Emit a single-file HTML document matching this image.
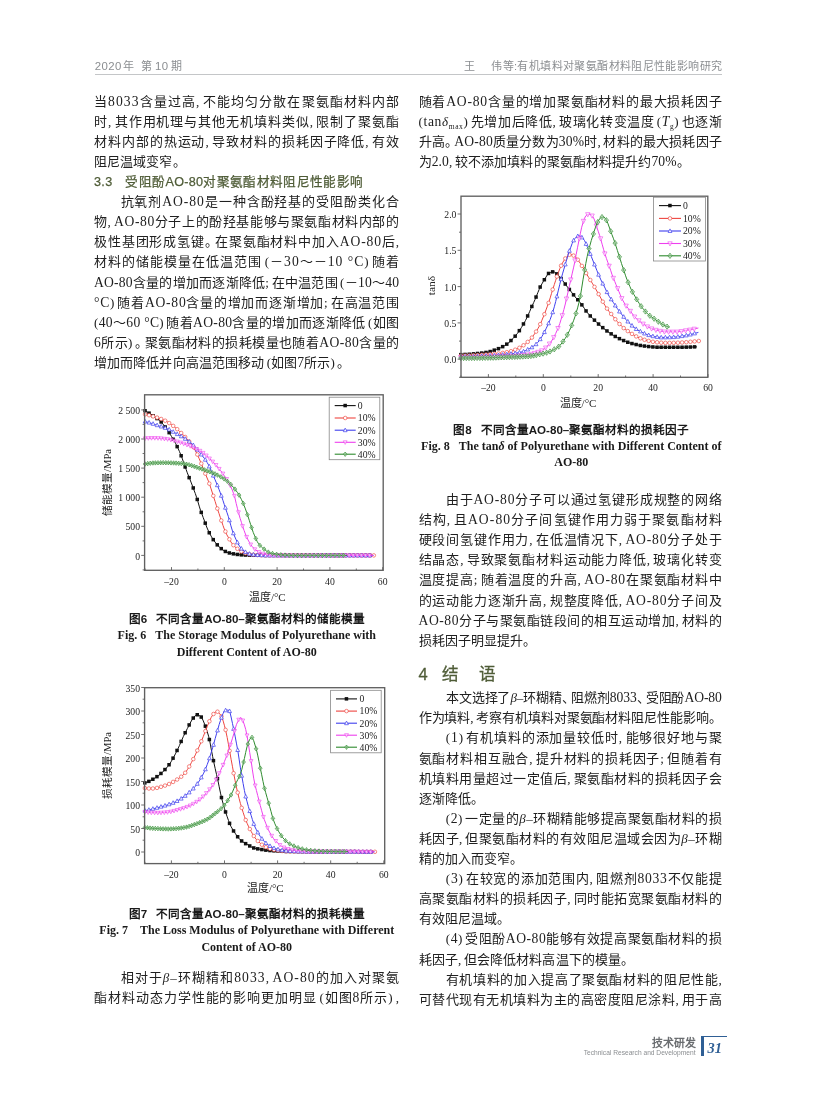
<!DOCTYPE html>
<html lang="zh-CN"><head><meta charset="utf-8"><title>page 31</title>
<style>
html,body{margin:0;padding:0;background:#fff;}
#p{position:relative;width:816px;height:1099px;overflow:hidden;background:transparent;will-change:transform;font-family:"Liberation Serif",serif;color:#1a1a1a;}
#p div{position:absolute;white-space:nowrap;}
.b{font-size:13.0px;line-height:20.0px;height:20.0px;color:#202020;}
.j{text-align:justify;text-align-last:justify;text-justify:inter-character;}
.l{font-size:13.6px;}.pd{margin-right:-0.3em;}.pc{margin-right:0.2em;}.pl{margin-left:0.18em;}.pr{margin-right:0.18em;}
.b sub{font-size:7.5px;vertical-align:-3px;line-height:0;}
.h3{font-family:"Liberation Sans",sans-serif;font-size:12.6px;line-height:20px;color:#4f5c37;letter-spacing:0.32px;-webkit-text-stroke:0.25px #4f5c37;}
.h1{font-family:"Liberation Sans",sans-serif;font-size:16.5px;line-height:22px;color:#4f5c37;-webkit-text-stroke:0.3px #4f5c37;}
.cc{font-family:"Liberation Sans",sans-serif;font-weight:bold;font-size:11.6px;line-height:16px;text-align:center;color:#1a1a1a;}
.cc,.ce{white-space:nowrap;}
.ce{font-family:"Liberation Serif",serif;font-weight:bold;font-size:12.0px;line-height:16px;text-align:center;color:#1a1a1a;}
.hd{font-family:"Liberation Sans",sans-serif;font-size:11.0px;line-height:16px;color:#8b8e91;letter-spacing:0.39px;}
.hn{font-size:11.4px;}
.ft1{font-family:"Liberation Sans",sans-serif;font-weight:bold;font-size:10.9px;line-height:14px;color:#6a6d70;}
.ft2{font-family:"Liberation Sans",sans-serif;font-size:6.65px;line-height:8px;color:#8b8e91;}
.pg{font-family:"Liberation Serif",serif;font-weight:bold;font-style:italic;font-size:14.4px;line-height:16px;color:#2f5f95;}
svg{position:absolute;left:0;top:0;}
svg text{font-family:"Liberation Serif",serif;fill:#222;}
.tk{font-size:9.7px;}
.ax{font-size:11px;}
.ay{font-size:10.6px;}
</style></head>
<body><div id="p">
<svg width="816" height="1099" viewBox="0 0 816 1099">
<defs><g id="mk"><rect x="-1.8" y="-1.8" width="3.5" height="3.5" fill="#111111"/></g><g id="mr"><circle cx="0.0" cy="0.0" r="1.80" fill="#fff" stroke="#ee4540" stroke-width="0.65"/></g><g id="mb"><path d="M0.0 -2.1L1.9 1.5L-1.9 1.5Z" fill="#fff" stroke="#3f3fee" stroke-width="0.7"/></g><g id="mm"><path d="M0.0 2.1L1.9 -1.5L-1.9 -1.5Z" fill="#fff" fill-opacity="0.55" stroke="#ee3fee" stroke-width="0.6"/></g><g id="mg"><path d="M0.0 -2.2L1.8 0.0L0.0 2.2L-1.8 0.0Z" fill="#fff" fill-opacity="0.55" stroke="#2e8b2e" stroke-width="0.6"/><path d="M0.0 -2.2V2.2M-1.8 0.0H1.8" stroke="#2e8b2e" stroke-width="0.4" fill="none"/></g><g id="mmL"><path d="M0.0 2.5L2.2 -1.7L-2.2 -1.7Z" fill="#fff" fill-opacity="0.55" stroke="#ee3fee" stroke-width="0.6"/></g><g id="mgL"><path d="M0.0 -2.6L2.1 0.0L0.0 2.6L-2.1 0.0Z" fill="#fff" fill-opacity="0.55" stroke="#2e8b2e" stroke-width="0.6"/><path d="M0.0 -2.6V2.6M-2.1 0.0H2.1" stroke="#2e8b2e" stroke-width="0.4" fill="none"/></g></defs><path d="M145.1 410.8L146.4 411.5L147.7 412.3L149.1 413.1L150.4 414.0L151.7 414.8L153.0 415.7L154.3 416.6L155.7 417.5L157.0 418.5L158.3 419.5L159.6 420.6L160.9 421.8L162.3 423.3L163.6 424.9L164.9 426.6L166.2 428.4L167.5 430.3L168.9 432.3L170.2 434.3L171.5 436.4L172.8 438.6L174.1 440.9L175.5 443.3L176.8 445.8L178.1 448.5L179.4 451.4L180.7 454.5L182.1 458.1L183.4 461.9L184.7 465.6L186.0 469.2L187.3 472.8L188.7 476.3L190.0 479.6L191.3 482.9L192.6 486.3L193.9 489.9L195.3 493.5L196.6 497.4L197.9 501.6L199.2 506.1L200.5 510.3L201.9 514.0L203.2 517.5L204.5 521.0L205.8 524.6L207.1 528.0L208.5 531.1L209.8 533.7L211.1 536.1L212.4 538.3L213.7 540.3L215.1 542.1L216.4 543.8L217.7 545.3L219.0 546.6L220.3 547.8L221.7 548.9L223.0 550.0L224.3 550.9L225.6 551.7L226.9 552.2L228.3 552.7L229.6 553.1L230.9 553.4L232.2 553.7L233.5 553.9L234.9 554.2L236.2 554.4L237.5 554.5L238.8 554.7L240.1 554.8L241.5 554.9L242.8 555.0L244.1 555.1L245.4 555.1L246.7 555.2L248.1 555.2L249.4 555.2L250.7 555.3L252.0 555.3L253.3 555.3L254.7 555.3L256.0 555.3L257.3 555.3L258.6 555.3L259.9 555.3L261.3 555.3L262.6 555.3L263.9 555.4L265.2 555.4L266.5 555.4L267.9 555.4L269.2 555.4L270.5 555.4L271.8 555.4L273.1 555.4L274.5 555.4L275.8 555.4L277.1 555.4L278.4 555.4L279.7 555.4L281.1 555.4L282.4 555.4L283.7 555.4L285.0 555.4L286.3 555.4L287.7 555.4L289.0 555.4L290.3 555.4L291.6 555.4L292.9 555.4L294.3 555.4L295.6 555.4L296.9 555.4L298.2 555.4L299.5 555.4L300.9 555.4L302.2 555.4L303.5 555.4L304.8 555.4L306.1 555.4L307.5 555.4L308.8 555.4L310.1 555.4L311.4 555.4L312.7 555.4L314.1 555.4L315.4 555.4L316.7 555.4L318.0 555.4L319.3 555.4L320.7 555.4L322.0 555.4L323.3 555.4L324.6 555.4L325.9 555.4L327.3 555.4L328.6 555.4L329.9 555.4L331.2 555.4L332.5 555.4L333.9 555.4L335.2 555.4L336.5 555.4L337.8 555.4L339.1 555.4L340.5 555.4L341.8 555.4L343.1 555.4L344.4 555.4L345.7 555.4L347.1 555.4L348.4 555.4L349.7 555.4L351.0 555.4L352.3 555.4L353.7 555.4L355.0 555.4L356.3 555.4L357.6 555.4L358.9 555.4L360.3 555.4L361.6 555.4L362.9 555.4L364.2 555.4L365.5 555.4L366.9 555.4L368.2 555.4L369.5 555.4L370.8 555.4L372.1 555.4" fill="none" stroke="#111111" stroke-width="1"/>
<use href="#mk" x="145.1" y="410.8"/>
<use href="#mk" x="149.1" y="413.2"/>
<use href="#mk" x="153.1" y="415.8"/>
<use href="#mk" x="157.1" y="418.6"/>
<use href="#mk" x="161.2" y="422.0"/>
<use href="#mk" x="165.2" y="427.0"/>
<use href="#mk" x="169.2" y="432.7"/>
<use href="#mk" x="173.2" y="439.3"/>
<use href="#mk" x="177.2" y="446.7"/>
<use href="#mk" x="181.2" y="455.8"/>
<use href="#mk" x="185.2" y="467.0"/>
<use href="#mk" x="189.2" y="477.7"/>
<use href="#mk" x="193.3" y="488.0"/>
<use href="#mk" x="197.3" y="499.5"/>
<use href="#mk" x="201.3" y="512.4"/>
<use href="#mk" x="205.3" y="523.2"/>
<use href="#mk" x="209.3" y="532.8"/>
<use href="#mk" x="213.3" y="539.7"/>
<use href="#mk" x="217.3" y="544.9"/>
<use href="#mk" x="221.3" y="548.7"/>
<use href="#mk" x="225.4" y="551.5"/>
<use href="#mk" x="229.4" y="553.0"/>
<use href="#mk" x="233.4" y="553.9"/>
<use href="#mk" x="237.4" y="554.5"/>
<use href="#mk" x="241.4" y="554.9"/>
<use href="#mk" x="245.4" y="555.1"/>
<use href="#mk" x="249.4" y="555.2"/>
<use href="#mk" x="253.4" y="555.3"/>
<use href="#mk" x="257.5" y="555.3"/>
<use href="#mk" x="261.5" y="555.3"/>
<use href="#mk" x="265.5" y="555.4"/>
<use href="#mk" x="269.5" y="555.4"/>
<use href="#mk" x="273.5" y="555.4"/>
<use href="#mk" x="277.5" y="555.4"/>
<use href="#mk" x="281.5" y="555.4"/>
<use href="#mk" x="285.5" y="555.4"/>
<use href="#mk" x="289.6" y="555.4"/>
<use href="#mk" x="293.6" y="555.4"/>
<use href="#mk" x="297.6" y="555.4"/>
<use href="#mk" x="301.6" y="555.4"/>
<use href="#mk" x="305.6" y="555.4"/>
<use href="#mk" x="309.6" y="555.4"/>
<use href="#mk" x="313.6" y="555.4"/>
<use href="#mk" x="317.7" y="555.4"/>
<use href="#mk" x="321.7" y="555.4"/>
<use href="#mk" x="325.7" y="555.4"/>
<use href="#mk" x="329.7" y="555.4"/>
<use href="#mk" x="333.7" y="555.4"/>
<use href="#mk" x="337.7" y="555.4"/>
<use href="#mk" x="341.7" y="555.4"/>
<use href="#mk" x="345.7" y="555.4"/>
<use href="#mk" x="349.8" y="555.4"/>
<use href="#mk" x="353.8" y="555.4"/>
<use href="#mk" x="357.8" y="555.4"/>
<use href="#mk" x="361.8" y="555.4"/>
<use href="#mk" x="365.8" y="555.4"/>
<use href="#mk" x="369.8" y="555.4"/>
<path d="M145.1 414.3L146.4 414.6L147.7 414.9L149.1 415.2L150.4 415.6L151.7 416.0L153.0 416.3L154.3 416.7L155.7 417.2L157.0 417.6L158.3 418.0L159.6 418.4L160.9 418.9L162.3 419.4L163.6 420.0L164.9 420.6L166.2 421.3L167.5 422.0L168.9 422.8L170.2 423.7L171.5 424.6L172.8 425.6L174.1 426.6L175.5 427.7L176.8 428.9L178.1 430.1L179.4 431.3L180.7 432.5L182.1 433.8L183.4 435.1L184.7 436.4L186.0 437.8L187.3 439.3L188.7 440.8L190.0 442.4L191.3 444.1L192.6 446.0L193.9 448.2L195.3 450.6L196.6 453.1L197.9 455.8L199.2 458.7L200.5 461.8L201.9 465.0L203.2 468.3L204.5 471.6L205.8 474.8L207.1 478.0L208.5 481.3L209.8 485.0L211.1 488.9L212.4 493.0L213.7 497.2L215.1 501.4L216.4 505.6L217.7 509.6L219.0 513.5L220.3 517.4L221.7 521.5L223.0 525.5L224.3 529.1L225.6 532.1L226.9 534.9L228.3 537.3L229.6 539.7L230.9 541.9L232.2 543.8L233.5 545.4L234.9 546.7L236.2 547.9L237.5 548.9L238.8 549.9L240.1 550.8L241.5 551.5L242.8 552.2L244.1 552.7L245.4 553.2L246.7 553.6L248.1 553.9L249.4 554.2L250.7 554.4L252.0 554.6L253.3 554.8L254.7 555.0L256.0 555.1L257.3 555.1L258.6 555.2L259.9 555.2L261.3 555.3L262.6 555.3L263.9 555.4L265.2 555.4L266.5 555.4L267.9 555.4L269.2 555.4L270.5 555.4L271.8 555.4L273.1 555.4L274.5 555.4L275.8 555.4L277.1 555.4L278.4 555.4L279.7 555.4L281.1 555.4L282.4 555.4L283.7 555.4L285.0 555.4L286.3 555.4L287.7 555.4L289.0 555.4L290.3 555.4L291.6 555.4L292.9 555.4L294.3 555.4L295.6 555.4L296.9 555.4L298.2 555.4L299.5 555.4L300.9 555.4L302.2 555.4L303.5 555.4L304.8 555.4L306.1 555.4L307.5 555.4L308.8 555.4L310.1 555.4L311.4 555.4L312.7 555.4L314.1 555.4L315.4 555.4L316.7 555.4L318.0 555.4L319.3 555.4L320.7 555.4L322.0 555.4L323.3 555.4L324.6 555.4L325.9 555.4L327.3 555.4L328.6 555.4L329.9 555.4L331.2 555.4L332.5 555.4L333.9 555.4L335.2 555.4L336.5 555.4L337.8 555.4L339.1 555.4L340.5 555.4L341.8 555.4L343.1 555.4L344.4 555.4L345.7 555.4L347.1 555.4L348.4 555.4L349.7 555.4L351.0 555.4L352.3 555.4L353.7 555.4L355.0 555.4L356.3 555.4L357.6 555.4L358.9 555.4L360.3 555.4L361.6 555.4L362.9 555.4L364.2 555.4L365.5 555.4L366.9 555.4L368.2 555.4L369.5 555.4L370.8 555.4L372.1 555.4L373.5 555.4L374.8 555.4" fill="none" stroke="#ee4540" stroke-width="1"/>
<use href="#mr" x="145.1" y="414.3"/>
<use href="#mr" x="149.1" y="415.2"/>
<use href="#mr" x="153.1" y="416.4"/>
<use href="#mr" x="157.1" y="417.6"/>
<use href="#mr" x="161.2" y="419.0"/>
<use href="#mr" x="165.2" y="420.7"/>
<use href="#mr" x="169.2" y="423.1"/>
<use href="#mr" x="173.2" y="425.9"/>
<use href="#mr" x="177.2" y="429.2"/>
<use href="#mr" x="181.2" y="433.0"/>
<use href="#mr" x="185.2" y="437.0"/>
<use href="#mr" x="189.2" y="441.5"/>
<use href="#mr" x="193.3" y="447.0"/>
<use href="#mr" x="197.3" y="454.5"/>
<use href="#mr" x="201.3" y="463.6"/>
<use href="#mr" x="205.3" y="473.6"/>
<use href="#mr" x="209.3" y="483.6"/>
<use href="#mr" x="213.3" y="495.8"/>
<use href="#mr" x="217.3" y="508.5"/>
<use href="#mr" x="221.3" y="520.5"/>
<use href="#mr" x="225.4" y="531.5"/>
<use href="#mr" x="229.4" y="539.3"/>
<use href="#mr" x="233.4" y="545.2"/>
<use href="#mr" x="237.4" y="548.8"/>
<use href="#mr" x="241.4" y="551.5"/>
<use href="#mr" x="245.4" y="553.2"/>
<use href="#mr" x="249.4" y="554.2"/>
<use href="#mr" x="253.4" y="554.8"/>
<use href="#mr" x="257.5" y="555.1"/>
<use href="#mr" x="261.5" y="555.3"/>
<use href="#mr" x="265.5" y="555.4"/>
<use href="#mr" x="269.5" y="555.4"/>
<use href="#mr" x="273.5" y="555.4"/>
<use href="#mr" x="277.5" y="555.4"/>
<use href="#mr" x="281.5" y="555.4"/>
<use href="#mr" x="285.5" y="555.4"/>
<use href="#mr" x="289.6" y="555.4"/>
<use href="#mr" x="293.6" y="555.4"/>
<use href="#mr" x="297.6" y="555.4"/>
<use href="#mr" x="301.6" y="555.4"/>
<use href="#mr" x="305.6" y="555.4"/>
<use href="#mr" x="309.6" y="555.4"/>
<use href="#mr" x="313.6" y="555.4"/>
<use href="#mr" x="317.7" y="555.4"/>
<use href="#mr" x="321.7" y="555.4"/>
<use href="#mr" x="325.7" y="555.4"/>
<use href="#mr" x="329.7" y="555.4"/>
<use href="#mr" x="333.7" y="555.4"/>
<use href="#mr" x="337.7" y="555.4"/>
<use href="#mr" x="341.7" y="555.4"/>
<use href="#mr" x="345.7" y="555.4"/>
<use href="#mr" x="349.8" y="555.4"/>
<use href="#mr" x="353.8" y="555.4"/>
<use href="#mr" x="357.8" y="555.4"/>
<use href="#mr" x="361.8" y="555.4"/>
<use href="#mr" x="365.8" y="555.4"/>
<use href="#mr" x="369.8" y="555.4"/>
<use href="#mr" x="373.8" y="555.4"/>
<path d="M145.1 421.5L146.4 421.9L147.7 422.2L149.1 422.6L150.4 423.0L151.7 423.4L153.0 423.8L154.3 424.3L155.7 424.7L157.0 425.2L158.3 425.6L159.6 426.1L160.9 426.5L162.3 426.9L163.6 427.3L164.9 427.8L166.2 428.3L167.5 428.8L168.9 429.3L170.2 430.0L171.5 430.8L172.8 431.5L174.1 432.3L175.5 433.1L176.8 433.9L178.1 434.6L179.4 435.3L180.7 436.0L182.1 436.8L183.4 437.6L184.7 438.4L186.0 439.3L187.3 440.2L188.7 441.2L190.0 442.2L191.3 443.3L192.6 444.5L193.9 445.8L195.3 447.3L196.6 448.8L197.9 450.4L199.2 452.0L200.5 453.6L201.9 455.2L203.2 456.9L204.5 458.6L205.8 460.5L207.1 462.5L208.5 464.8L209.8 467.4L211.1 470.3L212.4 473.4L213.7 476.6L215.1 479.8L216.4 482.9L217.7 486.1L219.0 489.4L220.3 492.8L221.7 496.6L223.0 500.6L224.3 504.6L225.6 508.5L226.9 512.3L228.3 516.4L229.6 521.0L230.9 525.8L232.2 530.1L233.5 533.7L234.9 537.0L236.2 539.9L237.5 542.6L238.8 545.0L240.1 547.0L241.5 548.6L242.8 550.0L244.1 551.1L245.4 552.0L246.7 552.7L248.1 553.3L249.4 553.8L250.7 554.1L252.0 554.4L253.3 554.6L254.7 554.8L256.0 554.9L257.3 555.0L258.6 555.1L259.9 555.2L261.3 555.2L262.6 555.3L263.9 555.3L265.2 555.4L266.5 555.4L267.9 555.4L269.2 555.4L270.5 555.4L271.8 555.4L273.1 555.4L274.5 555.4L275.8 555.4L277.1 555.4L278.4 555.4L279.7 555.4L281.1 555.4L282.4 555.4L283.7 555.4L285.0 555.4L286.3 555.4L287.7 555.4L289.0 555.4L290.3 555.4L291.6 555.4L292.9 555.4L294.3 555.4L295.6 555.4L296.9 555.4L298.2 555.4L299.5 555.4L300.9 555.4L302.2 555.4L303.5 555.4L304.8 555.4L306.1 555.4L307.5 555.4L308.8 555.4L310.1 555.4L311.4 555.4L312.7 555.4L314.1 555.4L315.4 555.4L316.7 555.4L318.0 555.4L319.3 555.4L320.7 555.4L322.0 555.4L323.3 555.4L324.6 555.4L325.9 555.4L327.3 555.4L328.6 555.4L329.9 555.4L331.2 555.4L332.5 555.4L333.9 555.4L335.2 555.4L336.5 555.4L337.8 555.4L339.1 555.4L340.5 555.4L341.8 555.4L343.1 555.4L344.4 555.4L345.7 555.4L347.1 555.4L348.4 555.4L349.7 555.4L351.0 555.4L352.3 555.4L353.7 555.4L355.0 555.4L356.3 555.4L357.6 555.4L358.9 555.4L360.3 555.4L361.6 555.4L362.9 555.4L364.2 555.4L365.5 555.4L366.9 555.4L368.2 555.4L369.5 555.4L370.8 555.4L372.1 555.4L373.5 555.4" fill="none" stroke="#3f3fee" stroke-width="1"/>
<use href="#mb" x="145.1" y="421.5"/>
<use href="#mb" x="149.1" y="422.6"/>
<use href="#mb" x="153.1" y="423.8"/>
<use href="#mb" x="157.1" y="425.2"/>
<use href="#mb" x="161.2" y="426.5"/>
<use href="#mb" x="165.2" y="427.9"/>
<use href="#mb" x="169.2" y="429.5"/>
<use href="#mb" x="173.2" y="431.8"/>
<use href="#mb" x="177.2" y="434.1"/>
<use href="#mb" x="181.2" y="436.3"/>
<use href="#mb" x="185.2" y="438.8"/>
<use href="#mb" x="189.2" y="441.6"/>
<use href="#mb" x="193.3" y="445.1"/>
<use href="#mb" x="197.3" y="449.6"/>
<use href="#mb" x="201.3" y="454.5"/>
<use href="#mb" x="205.3" y="459.7"/>
<use href="#mb" x="209.3" y="466.4"/>
<use href="#mb" x="213.3" y="475.6"/>
<use href="#mb" x="217.3" y="485.2"/>
<use href="#mb" x="221.3" y="495.7"/>
<use href="#mb" x="225.4" y="507.7"/>
<use href="#mb" x="229.4" y="520.2"/>
<use href="#mb" x="233.4" y="533.3"/>
<use href="#mb" x="237.4" y="542.4"/>
<use href="#mb" x="241.4" y="548.6"/>
<use href="#mb" x="245.4" y="552.0"/>
<use href="#mb" x="249.4" y="553.8"/>
<use href="#mb" x="253.4" y="554.6"/>
<use href="#mb" x="257.5" y="555.0"/>
<use href="#mb" x="261.5" y="555.2"/>
<use href="#mb" x="265.5" y="555.4"/>
<use href="#mb" x="269.5" y="555.4"/>
<use href="#mb" x="273.5" y="555.4"/>
<use href="#mb" x="277.5" y="555.4"/>
<use href="#mb" x="281.5" y="555.4"/>
<use href="#mb" x="285.5" y="555.4"/>
<use href="#mb" x="289.6" y="555.4"/>
<use href="#mb" x="293.6" y="555.4"/>
<use href="#mb" x="297.6" y="555.4"/>
<use href="#mb" x="301.6" y="555.4"/>
<use href="#mb" x="305.6" y="555.4"/>
<use href="#mb" x="309.6" y="555.4"/>
<use href="#mb" x="313.6" y="555.4"/>
<use href="#mb" x="317.7" y="555.4"/>
<use href="#mb" x="321.7" y="555.4"/>
<use href="#mb" x="325.7" y="555.4"/>
<use href="#mb" x="329.7" y="555.4"/>
<use href="#mb" x="333.7" y="555.4"/>
<use href="#mb" x="337.7" y="555.4"/>
<use href="#mb" x="341.7" y="555.4"/>
<use href="#mb" x="345.7" y="555.4"/>
<use href="#mb" x="349.8" y="555.4"/>
<use href="#mb" x="353.8" y="555.4"/>
<use href="#mb" x="357.8" y="555.4"/>
<use href="#mb" x="361.8" y="555.4"/>
<use href="#mb" x="365.8" y="555.4"/>
<use href="#mb" x="369.8" y="555.4"/>
<path d="M145.1 438.4L146.4 438.3L147.7 438.2L149.1 438.2L150.4 438.2L151.7 438.1L153.0 438.1L154.3 438.1L155.7 438.1L157.0 438.1L158.3 438.2L159.6 438.3L160.9 438.4L162.3 438.5L163.6 438.7L164.9 438.8L166.2 439.0L167.5 439.2L168.9 439.4L170.2 439.7L171.5 440.0L172.8 440.3L174.1 440.7L175.5 441.0L176.8 441.4L178.1 441.8L179.4 442.2L180.7 442.6L182.1 443.1L183.4 443.6L184.7 444.1L186.0 444.5L187.3 445.0L188.7 445.5L190.0 446.1L191.3 446.6L192.6 447.2L193.9 447.7L195.3 448.3L196.6 449.0L197.9 449.7L199.2 450.4L200.5 451.2L201.9 452.0L203.2 453.0L204.5 454.0L205.8 455.1L207.1 456.3L208.5 457.5L209.8 458.7L211.1 460.0L212.4 461.3L213.7 462.6L215.1 464.0L216.4 465.5L217.7 467.1L219.0 468.7L220.3 470.3L221.7 472.0L223.0 473.7L224.3 475.6L225.6 477.5L226.9 479.6L228.3 481.9L229.6 484.3L230.9 486.9L232.2 489.9L233.5 493.3L234.9 497.7L236.2 503.5L237.5 508.7L238.8 513.7L240.1 518.3L241.5 522.7L242.8 526.8L244.1 530.5L245.4 534.0L246.7 537.1L248.1 540.0L249.4 542.3L250.7 544.5L252.0 546.3L253.3 547.8L254.7 549.1L256.0 550.2L257.3 551.2L258.6 551.9L259.9 552.5L261.3 553.1L262.6 553.6L263.9 553.9L265.2 554.2L266.5 554.5L267.9 554.7L269.2 554.9L270.5 555.0L271.8 555.1L273.1 555.2L274.5 555.2L275.8 555.3L277.1 555.3L278.4 555.4L279.7 555.4L281.1 555.4L282.4 555.4L283.7 555.4L285.0 555.4L286.3 555.4L287.7 555.4L289.0 555.4L290.3 555.4L291.6 555.4L292.9 555.4L294.3 555.4L295.6 555.4L296.9 555.4L298.2 555.4L299.5 555.4L300.9 555.4L302.2 555.4L303.5 555.4L304.8 555.4L306.1 555.4L307.5 555.4L308.8 555.4L310.1 555.4L311.4 555.4L312.7 555.4L314.1 555.4L315.4 555.4L316.7 555.4L318.0 555.4L319.3 555.4L320.7 555.4L322.0 555.4L323.3 555.4L324.6 555.4L325.9 555.4L327.3 555.4L328.6 555.4L329.9 555.4L331.2 555.4L332.5 555.4L333.9 555.4L335.2 555.4L336.5 555.4L337.8 555.4L339.1 555.4L340.5 555.4L341.8 555.4L343.1 555.4L344.4 555.4L345.7 555.4L347.1 555.4L348.4 555.4L349.7 555.4L351.0 555.4L352.3 555.4L353.7 555.4L355.0 555.4L356.3 555.4L357.6 555.4L358.9 555.4L360.3 555.4L361.6 555.4L362.9 555.4L364.2 555.4L365.5 555.4L366.9 555.4L368.2 555.4L369.5 555.4L370.8 555.4L372.1 555.4L373.5 555.4" fill="none" stroke="#ee3fee" stroke-width="1"/>
<use href="#mm" x="145.1" y="438.4"/>
<use href="#mm" x="148.3" y="438.2"/>
<use href="#mm" x="151.5" y="438.1"/>
<use href="#mm" x="154.8" y="438.1"/>
<use href="#mm" x="158.0" y="438.2"/>
<use href="#mm" x="161.2" y="438.4"/>
<use href="#mm" x="164.4" y="438.8"/>
<use href="#mm" x="167.6" y="439.2"/>
<use href="#mm" x="170.9" y="439.9"/>
<use href="#mm" x="174.1" y="440.7"/>
<use href="#mm" x="177.3" y="441.6"/>
<use href="#mm" x="180.5" y="442.6"/>
<use href="#mm" x="183.7" y="443.7"/>
<use href="#mm" x="187.0" y="444.9"/>
<use href="#mm" x="190.2" y="446.1"/>
<use href="#mm" x="193.4" y="447.5"/>
<use href="#mm" x="196.6" y="449.0"/>
<use href="#mm" x="199.9" y="450.8"/>
<use href="#mm" x="203.1" y="452.9"/>
<use href="#mm" x="206.3" y="455.5"/>
<use href="#mm" x="209.5" y="458.5"/>
<use href="#mm" x="212.7" y="461.6"/>
<use href="#mm" x="216.0" y="465.0"/>
<use href="#mm" x="219.2" y="468.9"/>
<use href="#mm" x="222.9" y="473.6"/>
<use href="#mm" x="226.6" y="479.0"/>
<use href="#mm" x="230.3" y="485.6"/>
<use href="#mm" x="234.4" y="495.8"/>
<use href="#mm" x="238.5" y="512.3"/>
<use href="#mm" x="242.5" y="526.1"/>
<use href="#mm" x="246.6" y="536.9"/>
<use href="#mm" x="250.7" y="544.5"/>
<use href="#mm" x="254.8" y="549.3"/>
<use href="#mm" x="258.9" y="552.0"/>
<use href="#mm" x="263.0" y="553.7"/>
<use href="#mm" x="267.1" y="554.6"/>
<use href="#mm" x="271.2" y="555.1"/>
<use href="#mm" x="275.3" y="555.3"/>
<use href="#mm" x="279.4" y="555.4"/>
<use href="#mm" x="283.5" y="555.4"/>
<use href="#mm" x="287.6" y="555.4"/>
<use href="#mm" x="291.6" y="555.4"/>
<use href="#mm" x="295.7" y="555.4"/>
<use href="#mm" x="299.8" y="555.4"/>
<use href="#mm" x="303.9" y="555.4"/>
<use href="#mm" x="308.0" y="555.4"/>
<use href="#mm" x="312.1" y="555.4"/>
<use href="#mm" x="316.2" y="555.4"/>
<use href="#mm" x="320.3" y="555.4"/>
<use href="#mm" x="324.4" y="555.4"/>
<use href="#mm" x="328.5" y="555.4"/>
<use href="#mm" x="332.6" y="555.4"/>
<use href="#mm" x="336.7" y="555.4"/>
<use href="#mm" x="340.8" y="555.4"/>
<use href="#mm" x="344.8" y="555.4"/>
<use href="#mm" x="348.9" y="555.4"/>
<use href="#mm" x="353.0" y="555.4"/>
<use href="#mm" x="357.1" y="555.4"/>
<use href="#mm" x="361.2" y="555.4"/>
<use href="#mm" x="365.3" y="555.4"/>
<use href="#mm" x="369.4" y="555.4"/>
<path d="M145.1 464.0L146.4 463.8L147.7 463.6L149.1 463.4L150.4 463.2L151.7 463.1L153.0 463.0L154.3 462.9L155.7 462.9L157.0 462.8L158.3 462.8L159.6 462.8L160.9 462.8L162.3 462.7L163.6 462.7L164.9 462.8L166.2 462.8L167.5 462.8L168.9 462.8L170.2 462.9L171.5 462.9L172.8 462.9L174.1 463.0L175.5 463.0L176.8 463.1L178.1 463.2L179.4 463.3L180.7 463.4L182.1 463.6L183.4 463.7L184.7 463.9L186.0 464.1L187.3 464.4L188.7 464.7L190.0 465.1L191.3 465.5L192.6 465.9L193.9 466.3L195.3 466.8L196.6 467.2L197.9 467.7L199.2 468.1L200.5 468.5L201.9 469.0L203.2 469.4L204.5 469.8L205.8 470.3L207.1 470.8L208.5 471.3L209.8 471.8L211.1 472.3L212.4 472.8L213.7 473.4L215.1 474.0L216.4 474.6L217.7 475.2L219.0 475.9L220.3 476.6L221.7 477.4L223.0 478.2L224.3 479.0L225.6 479.9L226.9 480.9L228.3 481.9L229.6 483.1L230.9 484.5L232.2 485.9L233.5 487.5L234.9 489.1L236.2 490.8L237.5 492.6L238.8 494.7L240.1 497.0L241.5 499.6L242.8 502.4L244.1 505.5L245.4 508.9L246.7 512.6L248.1 516.6L249.4 520.7L250.7 524.7L252.0 528.8L253.3 532.6L254.7 535.9L256.0 539.0L257.3 541.7L258.6 543.8L259.9 545.4L261.3 546.7L262.6 547.9L263.9 548.9L265.2 550.0L266.5 551.0L267.9 551.8L269.2 552.5L270.5 553.0L271.8 553.3L273.1 553.7L274.5 553.9L275.8 554.2L277.1 554.3L278.4 554.5L279.7 554.7L281.1 554.8L282.4 554.9L283.7 555.0L285.0 555.1L286.3 555.2L287.7 555.2L289.0 555.3L290.3 555.3L291.6 555.3L292.9 555.4L294.3 555.4L295.6 555.4L296.9 555.4L298.2 555.4L299.5 555.4L300.9 555.4L302.2 555.4L303.5 555.4L304.8 555.4L306.1 555.4L307.5 555.4L308.8 555.4L310.1 555.4L311.4 555.4L312.7 555.4L314.1 555.4L315.4 555.4L316.7 555.4L318.0 555.4L319.3 555.4L320.7 555.4L322.0 555.4L323.3 555.4L324.6 555.4L325.9 555.4L327.3 555.4L328.6 555.4L329.9 555.4L331.2 555.4L332.5 555.4L333.9 555.4L335.2 555.4L336.5 555.4L337.8 555.4L339.1 555.4L340.5 555.4L341.8 555.4L343.1 555.4L344.4 555.4L345.7 555.4L347.1 555.4" fill="none" stroke="#2e8b2e" stroke-width="1"/>
<use href="#mg" x="145.1" y="464.0"/>
<use href="#mg" x="147.7" y="463.6"/>
<use href="#mg" x="150.3" y="463.2"/>
<use href="#mg" x="152.9" y="463.0"/>
<use href="#mg" x="155.4" y="462.9"/>
<use href="#mg" x="158.0" y="462.8"/>
<use href="#mg" x="160.6" y="462.8"/>
<use href="#mg" x="163.2" y="462.7"/>
<use href="#mg" x="165.8" y="462.8"/>
<use href="#mg" x="168.4" y="462.8"/>
<use href="#mg" x="171.0" y="462.9"/>
<use href="#mg" x="173.6" y="463.0"/>
<use href="#mg" x="176.1" y="463.1"/>
<use href="#mg" x="178.7" y="463.3"/>
<use href="#mg" x="181.3" y="463.5"/>
<use href="#mg" x="183.9" y="463.8"/>
<use href="#mg" x="186.5" y="464.2"/>
<use href="#mg" x="189.1" y="464.8"/>
<use href="#mg" x="191.7" y="465.6"/>
<use href="#mg" x="194.3" y="466.4"/>
<use href="#mg" x="196.8" y="467.3"/>
<use href="#mg" x="199.4" y="468.2"/>
<use href="#mg" x="202.0" y="469.0"/>
<use href="#mg" x="204.6" y="469.9"/>
<use href="#mg" x="207.2" y="470.8"/>
<use href="#mg" x="209.8" y="471.8"/>
<use href="#mg" x="212.4" y="472.8"/>
<use href="#mg" x="215.0" y="473.9"/>
<use href="#mg" x="217.5" y="475.1"/>
<use href="#mg" x="220.8" y="476.9"/>
<use href="#mg" x="224.1" y="478.9"/>
<use href="#mg" x="227.4" y="481.3"/>
<use href="#mg" x="230.7" y="484.3"/>
<use href="#mg" x="234.9" y="489.1"/>
<use href="#mg" x="239.1" y="495.1"/>
<use href="#mg" x="243.3" y="503.5"/>
<use href="#mg" x="247.4" y="514.7"/>
<use href="#mg" x="251.6" y="527.5"/>
<use href="#mg" x="255.8" y="538.5"/>
<use href="#mg" x="259.9" y="545.4"/>
<use href="#mg" x="264.1" y="549.1"/>
<use href="#mg" x="268.3" y="552.1"/>
<use href="#mg" x="272.5" y="553.5"/>
<use href="#mg" x="276.6" y="554.3"/>
<use href="#mg" x="280.8" y="554.8"/>
<use href="#mg" x="285.0" y="555.1"/>
<use href="#mg" x="289.1" y="555.3"/>
<use href="#mg" x="293.3" y="555.4"/>
<use href="#mg" x="297.5" y="555.4"/>
<use href="#mg" x="301.7" y="555.4"/>
<use href="#mg" x="305.8" y="555.4"/>
<use href="#mg" x="310.0" y="555.4"/>
<use href="#mg" x="314.2" y="555.4"/>
<use href="#mg" x="318.3" y="555.4"/>
<use href="#mg" x="322.5" y="555.4"/>
<use href="#mg" x="326.7" y="555.4"/>
<use href="#mg" x="330.9" y="555.4"/>
<use href="#mg" x="335.0" y="555.4"/>
<use href="#mg" x="339.2" y="555.4"/>
<use href="#mg" x="343.4" y="555.4"/>
<rect x="144.6" y="394.8" width="238.6" height="175.49999999999994" fill="none" stroke="#606060" stroke-width="1.35"/>
<path d="M145.1 570.3v-1.8" stroke="#606060" stroke-width="0.9"/>
<path d="M171.5 570.3v-3.2" stroke="#606060" stroke-width="0.9"/>
<path d="M197.9 570.3v-1.8" stroke="#606060" stroke-width="0.9"/>
<path d="M224.3 570.3v-3.2" stroke="#606060" stroke-width="0.9"/>
<path d="M250.7 570.3v-1.8" stroke="#606060" stroke-width="0.9"/>
<path d="M277.1 570.3v-3.2" stroke="#606060" stroke-width="0.9"/>
<path d="M303.5 570.3v-1.8" stroke="#606060" stroke-width="0.9"/>
<path d="M329.9 570.3v-3.2" stroke="#606060" stroke-width="0.9"/>
<path d="M356.3 570.3v-1.8" stroke="#606060" stroke-width="0.9"/>
<path d="M382.7 570.3v-3.2" stroke="#606060" stroke-width="0.9"/>
<text x="171.5" y="584.9" text-anchor="middle" class="tk">–20</text>
<text x="224.3" y="584.9" text-anchor="middle" class="tk">0</text>
<text x="277.1" y="584.9" text-anchor="middle" class="tk">20</text>
<text x="329.9" y="584.9" text-anchor="middle" class="tk">40</text>
<text x="382.7" y="584.9" text-anchor="middle" class="tk">60</text>
<path d="M144.6 555.4h-3.4" stroke="#606060" stroke-width="0.9"/>
<text x="140.0" y="559.5" text-anchor="end" class="tk">0</text>
<path d="M144.6 526.3h-3.4" stroke="#606060" stroke-width="0.9"/>
<text x="140.0" y="530.4" text-anchor="end" class="tk">500</text>
<path d="M144.6 497.2h-3.4" stroke="#606060" stroke-width="0.9"/>
<text x="140.0" y="501.3" text-anchor="end" class="tk">1 000</text>
<path d="M144.6 468.1h-3.4" stroke="#606060" stroke-width="0.9"/>
<text x="140.0" y="472.2" text-anchor="end" class="tk">1 500</text>
<path d="M144.6 439.0h-3.4" stroke="#606060" stroke-width="0.9"/>
<text x="140.0" y="443.1" text-anchor="end" class="tk">2 000</text>
<path d="M144.6 409.9h-3.4" stroke="#606060" stroke-width="0.9"/>
<text x="140.0" y="414.0" text-anchor="end" class="tk">2 500</text>
<path d="M144.6 569.9h-2" stroke="#606060" stroke-width="0.9"/>
<path d="M144.6 540.9h-2" stroke="#606060" stroke-width="0.9"/>
<path d="M144.6 511.8h-2" stroke="#606060" stroke-width="0.9"/>
<path d="M144.6 482.6h-2" stroke="#606060" stroke-width="0.9"/>
<path d="M144.6 453.5h-2" stroke="#606060" stroke-width="0.9"/>
<path d="M144.6 424.4h-2" stroke="#606060" stroke-width="0.9"/>
<rect x="329.2" y="397.2" width="50.60000000000002" height="62.5" fill="#fff" stroke="#888" stroke-width="0.8"/>
<path d="M334.7 405.6H355.7" stroke="#111111" stroke-width="1.1"/>
<use href="#mk" x="345.2" y="405.6"/>
<text x="357.8" y="408.9" class="tk">0</text>
<path d="M334.7 418.0H355.7" stroke="#ee4540" stroke-width="1.1"/>
<use href="#mr" x="345.2" y="418.0"/>
<text x="357.8" y="421.3" class="tk">10%</text>
<path d="M334.7 430.2H355.7" stroke="#3f3fee" stroke-width="1.1"/>
<use href="#mb" x="345.2" y="430.2"/>
<text x="357.8" y="433.5" class="tk">20%</text>
<path d="M334.7 442.3H355.7" stroke="#ee3fee" stroke-width="1.1"/>
<use href="#mm" x="345.2" y="442.3"/>
<text x="357.8" y="445.6" class="tk">30%</text>
<path d="M334.7 454.2H355.7" stroke="#2e8b2e" stroke-width="1.1"/>
<use href="#mg" x="345.2" y="454.2"/>
<text x="357.8" y="457.5" class="tk">40%</text>
<text x="267.3" y="600.8" text-anchor="middle" class="ax">温度/°C</text>
<text transform="translate(110.5,482.5) rotate(-90)" text-anchor="middle" class="ay">储能模量/MPa</text>
<path d="M144.9 782.9L146.2 782.5L147.5 782.0L148.8 781.4L150.2 780.8L151.5 780.1L152.8 779.3L154.1 778.5L155.5 777.7L156.8 776.8L158.1 775.9L159.5 774.8L160.8 773.7L162.1 772.5L163.4 771.2L164.8 769.9L166.1 768.4L167.4 766.8L168.7 765.2L170.1 763.3L171.4 761.2L172.7 758.9L174.1 756.4L175.4 753.9L176.7 751.3L178.0 748.6L179.4 745.6L180.7 742.6L182.0 739.6L183.3 736.6L184.7 733.9L186.0 731.2L187.3 728.6L188.7 726.1L190.0 723.5L191.3 721.0L192.6 718.9L194.0 717.2L195.3 715.6L196.6 714.8L197.9 714.9L199.3 715.5L200.6 716.4L201.9 718.0L203.3 720.9L204.6 724.2L205.9 727.6L207.2 731.6L208.6 736.2L209.9 741.8L211.2 748.9L212.6 756.3L213.9 762.7L215.2 768.6L216.5 774.4L217.9 780.4L219.2 786.8L220.5 793.1L221.8 798.9L223.2 803.9L224.5 808.5L225.8 812.8L227.2 816.8L228.5 820.5L229.8 823.9L231.1 826.7L232.5 829.1L233.8 831.2L235.1 833.2L236.4 835.1L237.8 837.0L239.1 838.6L240.4 839.9L241.8 841.0L243.1 842.0L244.4 842.9L245.7 843.7L247.1 844.4L248.4 845.1L249.7 846.0L251.1 846.9L252.4 847.5L253.7 847.9L255.0 848.3L256.4 848.6L257.7 848.8L259.0 849.1L260.3 849.3L261.7 849.6L263.0 849.8L264.3 850.0L265.7 850.2L267.0 850.4L268.3 850.5L269.6 850.6L271.0 850.7L272.3 850.8L273.6 850.9L274.9 851.0L276.3 851.0L277.6 851.1L278.9 851.2L280.3 851.2L281.6 851.3L282.9 851.4L284.2 851.4L285.6 851.4L286.9 851.5L288.2 851.5L289.5 851.5L290.9 851.5L292.2 851.5L293.5 851.5L294.9 851.6L296.2 851.6L297.5 851.6L298.8 851.6L300.2 851.6L301.5 851.6L302.8 851.6L304.1 851.6L305.5 851.6L306.8 851.6L308.1 851.6L309.5 851.6L310.8 851.6L312.1 851.6L313.4 851.6L314.8 851.6L316.1 851.7L317.4 851.7L318.8 851.7L320.1 851.7L321.4 851.7L322.7 851.7L324.1 851.7L325.4 851.7L326.7 851.7L328.0 851.7L329.4 851.7L330.7 851.7L332.0 851.7L333.4 851.7L334.7 851.7L336.0 851.7L337.3 851.7L338.7 851.7L340.0 851.7L341.3 851.7L342.6 851.7L344.0 851.7L345.3 851.7L346.6 851.7L348.0 851.7L349.3 851.7L350.6 851.7L351.9 851.7L353.3 851.7L354.6 851.7L355.9 851.7L357.2 851.8L358.6 851.8L359.9 851.8L361.2 851.8L362.6 851.8L363.9 851.8L365.2 851.8L366.5 851.8L367.9 851.8L369.2 851.8L370.5 851.8L371.9 851.8L373.2 851.8" fill="none" stroke="#111111" stroke-width="1"/>
<use href="#mk" x="144.9" y="782.9"/>
<use href="#mk" x="148.9" y="781.4"/>
<use href="#mk" x="152.9" y="779.3"/>
<use href="#mk" x="157.0" y="776.7"/>
<use href="#mk" x="161.0" y="773.5"/>
<use href="#mk" x="165.0" y="769.6"/>
<use href="#mk" x="169.1" y="764.8"/>
<use href="#mk" x="173.1" y="758.2"/>
<use href="#mk" x="177.1" y="750.5"/>
<use href="#mk" x="181.2" y="741.5"/>
<use href="#mk" x="185.2" y="732.8"/>
<use href="#mk" x="189.2" y="725.0"/>
<use href="#mk" x="193.3" y="718.1"/>
<use href="#mk" x="197.3" y="714.8"/>
<use href="#mk" x="201.3" y="717.1"/>
<use href="#mk" x="205.4" y="726.2"/>
<use href="#mk" x="209.4" y="739.6"/>
<use href="#mk" x="213.5" y="760.7"/>
<use href="#mk" x="217.5" y="778.7"/>
<use href="#mk" x="221.5" y="797.6"/>
<use href="#mk" x="225.6" y="812.0"/>
<use href="#mk" x="229.6" y="823.4"/>
<use href="#mk" x="233.6" y="831.0"/>
<use href="#mk" x="237.7" y="836.8"/>
<use href="#mk" x="241.7" y="841.0"/>
<use href="#mk" x="245.7" y="843.7"/>
<use href="#mk" x="249.8" y="846.0"/>
<use href="#mk" x="253.8" y="848.0"/>
<use href="#mk" x="257.8" y="848.9"/>
<use href="#mk" x="261.9" y="849.6"/>
<use href="#mk" x="265.9" y="850.2"/>
<use href="#mk" x="270.0" y="850.6"/>
<use href="#mk" x="274.0" y="850.9"/>
<use href="#mk" x="278.0" y="851.1"/>
<use href="#mk" x="282.1" y="851.3"/>
<use href="#mk" x="286.1" y="851.5"/>
<use href="#mk" x="290.1" y="851.5"/>
<use href="#mk" x="294.2" y="851.5"/>
<use href="#mk" x="298.2" y="851.6"/>
<use href="#mk" x="302.2" y="851.6"/>
<use href="#mk" x="306.3" y="851.6"/>
<use href="#mk" x="310.3" y="851.6"/>
<use href="#mk" x="314.3" y="851.6"/>
<use href="#mk" x="318.4" y="851.7"/>
<use href="#mk" x="322.4" y="851.7"/>
<use href="#mk" x="326.5" y="851.7"/>
<use href="#mk" x="330.5" y="851.7"/>
<use href="#mk" x="334.5" y="851.7"/>
<use href="#mk" x="338.6" y="851.7"/>
<use href="#mk" x="342.6" y="851.7"/>
<use href="#mk" x="346.6" y="851.7"/>
<use href="#mk" x="350.7" y="851.7"/>
<use href="#mk" x="354.7" y="851.7"/>
<use href="#mk" x="358.7" y="851.8"/>
<use href="#mk" x="362.8" y="851.8"/>
<use href="#mk" x="366.8" y="851.8"/>
<use href="#mk" x="370.8" y="851.8"/>
<path d="M144.9 788.1L146.2 788.3L147.5 788.4L148.8 788.5L150.2 788.5L151.5 788.5L152.8 788.5L154.1 788.4L155.5 788.2L156.8 787.9L158.1 787.6L159.5 787.2L160.8 786.9L162.1 786.5L163.4 786.1L164.8 785.6L166.1 785.2L167.4 784.7L168.7 784.1L170.1 783.5L171.4 782.8L172.7 782.1L174.1 781.3L175.4 780.6L176.7 779.8L178.0 778.9L179.4 778.0L180.7 777.1L182.0 776.0L183.3 774.8L184.7 773.4L186.0 771.7L187.3 769.7L188.7 767.5L190.0 765.2L191.3 762.7L192.6 760.3L194.0 757.7L195.3 754.9L196.6 752.0L197.9 749.1L199.3 746.2L200.6 743.1L201.9 739.9L203.3 736.5L204.6 733.1L205.9 729.7L207.2 726.3L208.6 723.2L209.9 720.2L211.2 717.4L212.6 715.2L213.9 713.5L215.2 712.1L216.5 711.5L217.9 712.0L219.2 713.2L220.5 714.9L221.8 717.3L223.2 721.1L224.5 725.8L225.8 731.0L227.2 737.5L228.5 744.7L229.8 751.9L231.1 759.3L232.5 766.8L233.8 774.0L235.1 780.7L236.4 787.1L237.8 793.1L239.1 798.5L240.4 803.4L241.8 808.0L243.1 812.3L244.4 816.3L245.7 820.0L247.1 823.3L248.4 826.2L249.7 828.9L251.1 831.3L252.4 833.7L253.7 835.8L255.0 837.8L256.4 839.5L257.7 840.9L259.0 842.1L260.3 843.3L261.7 844.5L263.0 845.6L264.3 846.5L265.7 847.1L267.0 847.7L268.3 848.2L269.6 848.7L271.0 849.1L272.3 849.4L273.6 849.7L274.9 849.9L276.3 850.1L277.6 850.3L278.9 850.5L280.3 850.7L281.6 850.9L282.9 851.0L284.2 851.2L285.6 851.3L286.9 851.4L288.2 851.5L289.5 851.5L290.9 851.5L292.2 851.5L293.5 851.5L294.9 851.6L296.2 851.6L297.5 851.6L298.8 851.6L300.2 851.6L301.5 851.6L302.8 851.6L304.1 851.6L305.5 851.6L306.8 851.6L308.1 851.6L309.5 851.6L310.8 851.6L312.1 851.6L313.4 851.6L314.8 851.7L316.1 851.7L317.4 851.7L318.8 851.7L320.1 851.7L321.4 851.7L322.7 851.7L324.1 851.7L325.4 851.7L326.7 851.7L328.0 851.7L329.4 851.7L330.7 851.7L332.0 851.7L333.4 851.7L334.7 851.7L336.0 851.7L337.3 851.7L338.7 851.7L340.0 851.7L341.3 851.7L342.6 851.7L344.0 851.7L345.3 851.7L346.6 851.7L348.0 851.7L349.3 851.7L350.6 851.7L351.9 851.7L353.3 851.7L354.6 851.7L355.9 851.8L357.2 851.8L358.6 851.8L359.9 851.8L361.2 851.8L362.6 851.8L363.9 851.8L365.2 851.8L366.5 851.8L367.9 851.8L369.2 851.8L370.5 851.8L371.9 851.8L373.2 851.8L374.5 851.8L375.8 851.8" fill="none" stroke="#ee4540" stroke-width="1"/>
<use href="#mr" x="144.9" y="788.1"/>
<use href="#mr" x="148.9" y="788.5"/>
<use href="#mr" x="152.9" y="788.5"/>
<use href="#mr" x="157.0" y="787.9"/>
<use href="#mr" x="161.0" y="786.8"/>
<use href="#mr" x="165.0" y="785.6"/>
<use href="#mr" x="169.1" y="784.0"/>
<use href="#mr" x="173.1" y="781.9"/>
<use href="#mr" x="177.1" y="779.5"/>
<use href="#mr" x="181.2" y="776.7"/>
<use href="#mr" x="185.2" y="772.8"/>
<use href="#mr" x="189.2" y="766.5"/>
<use href="#mr" x="193.3" y="759.1"/>
<use href="#mr" x="197.3" y="750.5"/>
<use href="#mr" x="201.3" y="741.3"/>
<use href="#mr" x="205.4" y="731.1"/>
<use href="#mr" x="209.4" y="721.3"/>
<use href="#mr" x="213.5" y="714.0"/>
<use href="#mr" x="217.5" y="711.7"/>
<use href="#mr" x="221.5" y="716.5"/>
<use href="#mr" x="225.6" y="729.9"/>
<use href="#mr" x="229.6" y="750.8"/>
<use href="#mr" x="233.6" y="773.2"/>
<use href="#mr" x="237.7" y="792.6"/>
<use href="#mr" x="241.7" y="807.9"/>
<use href="#mr" x="245.7" y="820.0"/>
<use href="#mr" x="249.8" y="829.0"/>
<use href="#mr" x="253.8" y="836.0"/>
<use href="#mr" x="257.8" y="841.0"/>
<use href="#mr" x="261.9" y="844.7"/>
<use href="#mr" x="265.9" y="847.2"/>
<use href="#mr" x="270.0" y="848.8"/>
<use href="#mr" x="274.0" y="849.8"/>
<use href="#mr" x="278.0" y="850.4"/>
<use href="#mr" x="282.1" y="851.0"/>
<use href="#mr" x="286.1" y="851.3"/>
<use href="#mr" x="290.1" y="851.5"/>
<use href="#mr" x="294.2" y="851.6"/>
<use href="#mr" x="298.2" y="851.6"/>
<use href="#mr" x="302.2" y="851.6"/>
<use href="#mr" x="306.3" y="851.6"/>
<use href="#mr" x="310.3" y="851.6"/>
<use href="#mr" x="314.3" y="851.7"/>
<use href="#mr" x="318.4" y="851.7"/>
<use href="#mr" x="322.4" y="851.7"/>
<use href="#mr" x="326.5" y="851.7"/>
<use href="#mr" x="330.5" y="851.7"/>
<use href="#mr" x="334.5" y="851.7"/>
<use href="#mr" x="338.6" y="851.7"/>
<use href="#mr" x="342.6" y="851.7"/>
<use href="#mr" x="346.6" y="851.7"/>
<use href="#mr" x="350.7" y="851.7"/>
<use href="#mr" x="354.7" y="851.7"/>
<use href="#mr" x="358.7" y="851.8"/>
<use href="#mr" x="362.8" y="851.8"/>
<use href="#mr" x="366.8" y="851.8"/>
<use href="#mr" x="370.8" y="851.8"/>
<use href="#mr" x="374.9" y="851.8"/>
<path d="M144.9 810.6L146.2 810.4L147.5 810.1L148.8 809.8L150.2 809.5L151.5 809.1L152.8 808.8L154.1 808.5L155.5 808.2L156.8 807.8L158.1 807.5L159.5 807.1L160.8 806.8L162.1 806.4L163.4 806.1L164.8 805.7L166.1 805.3L167.4 804.9L168.7 804.4L170.1 804.0L171.4 803.5L172.7 803.0L174.1 802.4L175.4 801.9L176.7 801.2L178.0 800.5L179.4 799.7L180.7 798.9L182.0 798.0L183.3 797.1L184.7 796.2L186.0 795.1L187.3 794.1L188.7 792.9L190.0 791.8L191.3 790.5L192.6 789.2L194.0 787.8L195.3 786.3L196.6 784.7L197.9 782.9L199.3 780.9L200.6 778.7L201.9 776.3L203.3 773.9L204.6 771.2L205.9 768.0L207.2 764.6L208.6 760.8L209.9 756.8L211.2 752.4L212.6 747.9L213.9 743.3L215.2 738.5L216.5 733.8L217.9 729.1L219.2 724.4L220.5 720.4L221.8 716.7L223.2 713.2L224.5 710.8L225.8 710.2L227.2 710.1L228.5 710.1L229.8 711.7L231.1 717.0L232.5 723.6L233.8 729.6L235.1 736.1L236.4 743.1L237.8 750.6L239.1 759.1L240.4 767.9L241.8 776.0L243.1 783.4L244.4 790.4L245.7 796.5L247.1 801.8L248.4 806.6L249.7 811.0L251.1 815.3L252.4 819.6L253.7 823.6L255.0 827.0L256.4 829.8L257.7 832.2L259.0 834.4L260.3 836.5L261.7 838.4L263.0 840.1L264.3 841.6L265.7 842.8L267.0 844.0L268.3 845.0L269.6 845.8L271.0 846.6L272.3 847.3L273.6 847.9L274.9 848.4L276.3 848.8L277.6 849.2L278.9 849.6L280.3 849.9L281.6 850.1L282.9 850.3L284.2 850.5L285.6 850.6L286.9 850.7L288.2 850.8L289.5 850.9L290.9 851.0L292.2 851.1L293.5 851.2L294.9 851.3L296.2 851.3L297.5 851.4L298.8 851.4L300.2 851.5L301.5 851.5L302.8 851.5L304.1 851.5L305.5 851.5L306.8 851.5L308.1 851.6L309.5 851.6L310.8 851.6L312.1 851.6L313.4 851.6L314.8 851.6L316.1 851.6L317.4 851.6L318.8 851.6L320.1 851.6L321.4 851.6L322.7 851.6L324.1 851.6L325.4 851.6L326.7 851.7L328.0 851.7L329.4 851.7L330.7 851.7L332.0 851.7L333.4 851.7L334.7 851.7L336.0 851.7L337.3 851.7L338.7 851.7L340.0 851.7L341.3 851.7L342.6 851.7L344.0 851.7L345.3 851.7L346.6 851.7L348.0 851.7L349.3 851.7L350.6 851.7L351.9 851.7L353.3 851.7L354.6 851.7L355.9 851.7L357.2 851.7L358.6 851.7L359.9 851.7L361.2 851.8L362.6 851.8L363.9 851.8L365.2 851.8L366.5 851.8L367.9 851.8L369.2 851.8L370.5 851.8L371.9 851.8L373.2 851.8L374.5 851.8" fill="none" stroke="#3f3fee" stroke-width="1"/>
<use href="#mb" x="144.9" y="810.6"/>
<use href="#mb" x="148.9" y="809.8"/>
<use href="#mb" x="152.9" y="808.8"/>
<use href="#mb" x="157.0" y="807.8"/>
<use href="#mb" x="161.0" y="806.7"/>
<use href="#mb" x="165.0" y="805.6"/>
<use href="#mb" x="169.1" y="804.3"/>
<use href="#mb" x="173.1" y="802.8"/>
<use href="#mb" x="177.1" y="801.0"/>
<use href="#mb" x="181.2" y="798.6"/>
<use href="#mb" x="185.2" y="795.8"/>
<use href="#mb" x="189.2" y="792.4"/>
<use href="#mb" x="193.3" y="788.5"/>
<use href="#mb" x="197.3" y="783.8"/>
<use href="#mb" x="201.3" y="777.4"/>
<use href="#mb" x="205.4" y="769.3"/>
<use href="#mb" x="209.4" y="758.3"/>
<use href="#mb" x="213.5" y="744.8"/>
<use href="#mb" x="217.5" y="730.4"/>
<use href="#mb" x="221.5" y="717.6"/>
<use href="#mb" x="225.6" y="710.3"/>
<use href="#mb" x="229.6" y="711.1"/>
<use href="#mb" x="233.6" y="728.9"/>
<use href="#mb" x="237.7" y="750.0"/>
<use href="#mb" x="241.7" y="775.7"/>
<use href="#mb" x="245.7" y="796.5"/>
<use href="#mb" x="249.8" y="811.1"/>
<use href="#mb" x="253.8" y="823.9"/>
<use href="#mb" x="257.8" y="832.4"/>
<use href="#mb" x="261.9" y="838.7"/>
<use href="#mb" x="265.9" y="843.1"/>
<use href="#mb" x="270.0" y="846.0"/>
<use href="#mb" x="274.0" y="848.1"/>
<use href="#mb" x="278.0" y="849.3"/>
<use href="#mb" x="282.1" y="850.2"/>
<use href="#mb" x="286.1" y="850.7"/>
<use href="#mb" x="290.1" y="851.0"/>
<use href="#mb" x="294.2" y="851.2"/>
<use href="#mb" x="298.2" y="851.4"/>
<use href="#mb" x="302.2" y="851.5"/>
<use href="#mb" x="306.3" y="851.5"/>
<use href="#mb" x="310.3" y="851.6"/>
<use href="#mb" x="314.3" y="851.6"/>
<use href="#mb" x="318.4" y="851.6"/>
<use href="#mb" x="322.4" y="851.6"/>
<use href="#mb" x="326.5" y="851.7"/>
<use href="#mb" x="330.5" y="851.7"/>
<use href="#mb" x="334.5" y="851.7"/>
<use href="#mb" x="338.6" y="851.7"/>
<use href="#mb" x="342.6" y="851.7"/>
<use href="#mb" x="346.6" y="851.7"/>
<use href="#mb" x="350.7" y="851.7"/>
<use href="#mb" x="354.7" y="851.7"/>
<use href="#mb" x="358.7" y="851.7"/>
<use href="#mb" x="362.8" y="851.8"/>
<use href="#mb" x="366.8" y="851.8"/>
<use href="#mb" x="370.8" y="851.8"/>
<path d="M144.9 812.0L146.2 812.2L147.5 812.3L148.8 812.4L150.2 812.5L151.5 812.6L152.8 812.7L154.1 812.7L155.5 812.7L156.8 812.7L158.1 812.8L159.5 812.7L160.8 812.7L162.1 812.6L163.4 812.5L164.8 812.4L166.1 812.3L167.4 812.2L168.7 812.0L170.1 811.8L171.4 811.5L172.7 811.2L174.1 810.9L175.4 810.5L176.7 810.2L178.0 809.8L179.4 809.4L180.7 809.0L182.0 808.6L183.3 808.2L184.7 807.7L186.0 807.2L187.3 806.7L188.7 806.2L190.0 805.6L191.3 804.9L192.6 804.3L194.0 803.5L195.3 802.7L196.6 801.8L197.9 800.9L199.3 799.9L200.6 798.9L201.9 797.7L203.3 796.4L204.6 795.0L205.9 793.6L207.2 792.1L208.6 790.6L209.9 789.0L211.2 787.3L212.6 785.4L213.9 783.4L215.2 781.2L216.5 778.8L217.9 776.3L219.2 773.6L220.5 770.7L221.8 767.7L223.2 764.6L224.5 761.4L225.8 758.1L227.2 754.5L228.5 750.8L229.8 746.9L231.1 742.6L232.5 738.2L233.8 733.8L235.1 729.2L236.4 724.7L237.8 721.5L239.1 719.0L240.4 717.6L241.8 718.4L243.1 721.1L244.4 724.9L245.7 729.4L247.1 736.0L248.4 744.1L249.7 752.4L251.1 760.9L252.4 769.9L253.7 778.2L255.0 784.8L256.4 790.4L257.7 795.5L259.0 800.5L260.3 805.6L261.7 810.8L263.0 815.5L264.3 819.6L265.7 823.2L267.0 826.5L268.3 829.5L269.6 832.2L271.0 834.7L272.3 836.8L273.6 838.6L274.9 840.1L276.3 841.5L277.6 842.9L278.9 844.1L280.3 845.3L281.6 846.3L282.9 847.0L284.2 847.6L285.6 848.2L286.9 848.6L288.2 849.0L289.5 849.4L290.9 849.6L292.2 849.9L293.5 850.1L294.9 850.3L296.2 850.5L297.5 850.6L298.8 850.8L300.2 851.0L301.5 851.1L302.8 851.2L304.1 851.3L305.5 851.4L306.8 851.5L308.1 851.5L309.5 851.5L310.8 851.5L312.1 851.5L313.4 851.6L314.8 851.6L316.1 851.6L317.4 851.6L318.8 851.6L320.1 851.6L321.4 851.6L322.7 851.6L324.1 851.6L325.4 851.6L326.7 851.6L328.0 851.6L329.4 851.7L330.7 851.7L332.0 851.7L333.4 851.7L334.7 851.7L336.0 851.7L337.3 851.7L338.7 851.7L340.0 851.7L341.3 851.7L342.6 851.7L344.0 851.7L345.3 851.7L346.6 851.7L348.0 851.7L349.3 851.7L350.6 851.7L351.9 851.7L353.3 851.7L354.6 851.7L355.9 851.7L357.2 851.7L358.6 851.7L359.9 851.7L361.2 851.7L362.6 851.8L363.9 851.8L365.2 851.8L366.5 851.8L367.9 851.8L369.2 851.8L370.5 851.8L371.9 851.8L373.2 851.8L374.5 851.8" fill="none" stroke="#ee3fee" stroke-width="1"/>
<use href="#mm" x="144.9" y="812.0"/>
<use href="#mm" x="148.1" y="812.4"/>
<use href="#mm" x="151.3" y="812.6"/>
<use href="#mm" x="154.6" y="812.7"/>
<use href="#mm" x="157.8" y="812.8"/>
<use href="#mm" x="161.0" y="812.7"/>
<use href="#mm" x="164.3" y="812.5"/>
<use href="#mm" x="167.5" y="812.2"/>
<use href="#mm" x="170.8" y="811.7"/>
<use href="#mm" x="174.0" y="810.9"/>
<use href="#mm" x="177.2" y="810.0"/>
<use href="#mm" x="180.5" y="809.1"/>
<use href="#mm" x="183.7" y="808.1"/>
<use href="#mm" x="187.0" y="806.9"/>
<use href="#mm" x="190.2" y="805.5"/>
<use href="#mm" x="193.4" y="803.8"/>
<use href="#mm" x="196.7" y="801.8"/>
<use href="#mm" x="199.9" y="799.4"/>
<use href="#mm" x="203.2" y="796.5"/>
<use href="#mm" x="206.4" y="793.1"/>
<use href="#mm" x="209.6" y="789.3"/>
<use href="#mm" x="212.9" y="785.0"/>
<use href="#mm" x="216.1" y="779.6"/>
<use href="#mm" x="219.3" y="773.2"/>
<use href="#mm" x="223.1" y="764.9"/>
<use href="#mm" x="226.8" y="755.5"/>
<use href="#mm" x="230.5" y="744.7"/>
<use href="#mm" x="234.6" y="731.0"/>
<use href="#mm" x="238.7" y="719.7"/>
<use href="#mm" x="242.8" y="720.5"/>
<use href="#mm" x="247.0" y="735.4"/>
<use href="#mm" x="251.1" y="761.1"/>
<use href="#mm" x="255.2" y="785.5"/>
<use href="#mm" x="259.3" y="801.6"/>
<use href="#mm" x="263.4" y="816.9"/>
<use href="#mm" x="267.5" y="827.8"/>
<use href="#mm" x="271.7" y="835.8"/>
<use href="#mm" x="275.8" y="841.0"/>
<use href="#mm" x="279.9" y="845.0"/>
<use href="#mm" x="284.0" y="847.5"/>
<use href="#mm" x="288.1" y="849.0"/>
<use href="#mm" x="292.2" y="849.9"/>
<use href="#mm" x="296.3" y="850.5"/>
<use href="#mm" x="300.5" y="851.0"/>
<use href="#mm" x="304.6" y="851.3"/>
<use href="#mm" x="308.7" y="851.5"/>
<use href="#mm" x="312.8" y="851.6"/>
<use href="#mm" x="316.9" y="851.6"/>
<use href="#mm" x="321.0" y="851.6"/>
<use href="#mm" x="325.2" y="851.6"/>
<use href="#mm" x="329.3" y="851.7"/>
<use href="#mm" x="333.4" y="851.7"/>
<use href="#mm" x="337.5" y="851.7"/>
<use href="#mm" x="341.6" y="851.7"/>
<use href="#mm" x="345.7" y="851.7"/>
<use href="#mm" x="349.8" y="851.7"/>
<use href="#mm" x="354.0" y="851.7"/>
<use href="#mm" x="358.1" y="851.7"/>
<use href="#mm" x="362.2" y="851.8"/>
<use href="#mm" x="366.3" y="851.8"/>
<use href="#mm" x="370.4" y="851.8"/>
<path d="M144.9 827.6L146.2 827.7L147.5 827.8L148.8 828.0L150.2 828.1L151.5 828.2L152.8 828.3L154.1 828.4L155.5 828.5L156.8 828.6L158.1 828.6L159.5 828.7L160.8 828.8L162.1 828.8L163.4 828.9L164.8 828.9L166.1 828.9L167.4 829.0L168.7 829.0L170.1 828.9L171.4 828.9L172.7 828.8L174.1 828.7L175.4 828.6L176.7 828.5L178.0 828.4L179.4 828.2L180.7 828.0L182.0 827.9L183.3 827.7L184.7 827.5L186.0 827.2L187.3 826.9L188.7 826.5L190.0 826.1L191.3 825.7L192.6 825.2L194.0 824.7L195.3 824.2L196.6 823.8L197.9 823.3L199.3 822.8L200.6 822.3L201.9 821.7L203.3 821.2L204.6 820.6L205.9 819.9L207.2 819.2L208.6 818.5L209.9 817.6L211.2 816.6L212.6 815.6L213.9 814.5L215.2 813.4L216.5 812.4L217.9 811.3L219.2 810.3L220.5 809.1L221.8 807.9L223.2 806.6L224.5 805.0L225.8 803.3L227.2 801.4L228.5 799.3L229.8 797.0L231.1 794.7L232.5 791.9L233.8 788.7L235.1 785.4L236.4 782.3L237.8 779.5L239.1 776.7L240.4 773.6L241.8 769.5L243.1 764.1L244.4 758.5L245.7 752.4L247.1 746.4L248.4 742.3L249.7 739.4L251.1 737.5L252.4 737.9L253.7 740.7L255.0 745.0L256.4 749.5L257.7 755.1L259.0 761.7L260.3 768.2L261.7 774.8L263.0 781.4L264.3 787.4L265.7 792.7L267.0 797.3L268.3 801.8L269.6 806.4L271.0 811.4L272.3 816.3L273.6 820.4L274.9 823.8L276.3 826.8L277.6 829.5L278.9 831.9L280.3 834.1L281.6 836.1L282.9 837.8L284.2 839.3L285.6 840.7L286.9 841.9L288.2 842.9L289.5 843.8L290.9 844.5L292.2 845.2L293.5 845.9L294.9 846.5L296.2 847.0L297.5 847.5L298.8 848.0L300.2 848.4L301.5 848.7L302.8 849.0L304.1 849.3L305.5 849.6L306.8 849.8L308.1 850.1L309.5 850.3L310.8 850.4L312.1 850.6L313.4 850.7L314.8 850.8L316.1 850.9L317.4 851.0L318.8 851.1L320.1 851.1L321.4 851.2L322.7 851.3L324.1 851.4L325.4 851.4L326.7 851.4L328.0 851.5L329.4 851.5L330.7 851.5L332.0 851.5L333.4 851.6L334.7 851.6L336.0 851.6L337.3 851.6L338.7 851.6L340.0 851.6L341.3 851.6L342.6 851.6L344.0 851.6L345.3 851.6L346.6 851.7L348.0 851.7" fill="none" stroke="#2e8b2e" stroke-width="1"/>
<use href="#mg" x="144.9" y="827.6"/>
<use href="#mg" x="147.5" y="827.8"/>
<use href="#mg" x="150.1" y="828.1"/>
<use href="#mg" x="152.7" y="828.3"/>
<use href="#mg" x="155.3" y="828.5"/>
<use href="#mg" x="157.9" y="828.6"/>
<use href="#mg" x="160.5" y="828.8"/>
<use href="#mg" x="163.1" y="828.9"/>
<use href="#mg" x="165.7" y="828.9"/>
<use href="#mg" x="168.3" y="829.0"/>
<use href="#mg" x="170.9" y="828.9"/>
<use href="#mg" x="173.5" y="828.8"/>
<use href="#mg" x="176.1" y="828.6"/>
<use href="#mg" x="178.7" y="828.3"/>
<use href="#mg" x="181.3" y="828.0"/>
<use href="#mg" x="183.9" y="827.6"/>
<use href="#mg" x="186.5" y="827.1"/>
<use href="#mg" x="189.1" y="826.4"/>
<use href="#mg" x="191.7" y="825.5"/>
<use href="#mg" x="194.3" y="824.6"/>
<use href="#mg" x="196.9" y="823.7"/>
<use href="#mg" x="199.5" y="822.7"/>
<use href="#mg" x="202.1" y="821.7"/>
<use href="#mg" x="204.7" y="820.5"/>
<use href="#mg" x="207.3" y="819.2"/>
<use href="#mg" x="209.9" y="817.6"/>
<use href="#mg" x="212.5" y="815.6"/>
<use href="#mg" x="215.1" y="813.5"/>
<use href="#mg" x="217.7" y="811.5"/>
<use href="#mg" x="221.0" y="808.7"/>
<use href="#mg" x="224.3" y="805.2"/>
<use href="#mg" x="227.7" y="800.6"/>
<use href="#mg" x="231.0" y="795.0"/>
<use href="#mg" x="235.2" y="785.3"/>
<use href="#mg" x="239.4" y="776.2"/>
<use href="#mg" x="243.6" y="762.0"/>
<use href="#mg" x="247.8" y="744.0"/>
<use href="#mg" x="252.0" y="737.4"/>
<use href="#mg" x="256.1" y="748.8"/>
<use href="#mg" x="260.3" y="768.2"/>
<use href="#mg" x="264.5" y="788.3"/>
<use href="#mg" x="268.7" y="803.2"/>
<use href="#mg" x="272.9" y="818.4"/>
<use href="#mg" x="277.1" y="828.6"/>
<use href="#mg" x="281.3" y="835.7"/>
<use href="#mg" x="285.5" y="840.7"/>
<use href="#mg" x="289.7" y="843.9"/>
<use href="#mg" x="293.9" y="846.0"/>
<use href="#mg" x="298.1" y="847.7"/>
<use href="#mg" x="302.3" y="848.9"/>
<use href="#mg" x="306.5" y="849.8"/>
<use href="#mg" x="310.7" y="850.4"/>
<use href="#mg" x="314.9" y="850.8"/>
<use href="#mg" x="319.1" y="851.1"/>
<use href="#mg" x="323.3" y="851.3"/>
<use href="#mg" x="327.5" y="851.5"/>
<use href="#mg" x="331.7" y="851.5"/>
<use href="#mg" x="335.9" y="851.6"/>
<use href="#mg" x="340.0" y="851.6"/>
<use href="#mg" x="344.2" y="851.6"/>
<rect x="144.6" y="687.7" width="240.1" height="175.89999999999998" fill="none" stroke="#606060" stroke-width="1.35"/>
<path d="M144.9 863.6v-1.8" stroke="#606060" stroke-width="0.9"/>
<path d="M171.4 863.6v-3.2" stroke="#606060" stroke-width="0.9"/>
<path d="M197.9 863.6v-1.8" stroke="#606060" stroke-width="0.9"/>
<path d="M224.5 863.6v-3.2" stroke="#606060" stroke-width="0.9"/>
<path d="M251.1 863.6v-1.8" stroke="#606060" stroke-width="0.9"/>
<path d="M277.6 863.6v-3.2" stroke="#606060" stroke-width="0.9"/>
<path d="M304.1 863.6v-1.8" stroke="#606060" stroke-width="0.9"/>
<path d="M330.7 863.6v-3.2" stroke="#606060" stroke-width="0.9"/>
<path d="M357.2 863.6v-1.8" stroke="#606060" stroke-width="0.9"/>
<path d="M383.8 863.6v-3.2" stroke="#606060" stroke-width="0.9"/>
<text x="171.4" y="878.2" text-anchor="middle" class="tk">–20</text>
<text x="224.5" y="878.2" text-anchor="middle" class="tk">0</text>
<text x="277.6" y="878.2" text-anchor="middle" class="tk">20</text>
<text x="330.7" y="878.2" text-anchor="middle" class="tk">40</text>
<text x="383.8" y="878.2" text-anchor="middle" class="tk">60</text>
<path d="M144.6 852.0h-3.4" stroke="#606060" stroke-width="0.9"/>
<text x="140.0" y="856.1" text-anchor="end" class="tk">0</text>
<path d="M144.6 828.5h-3.4" stroke="#606060" stroke-width="0.9"/>
<text x="140.0" y="832.6" text-anchor="end" class="tk">50</text>
<path d="M144.6 805.0h-3.4" stroke="#606060" stroke-width="0.9"/>
<text x="140.0" y="809.1" text-anchor="end" class="tk">100</text>
<path d="M144.6 781.5h-3.4" stroke="#606060" stroke-width="0.9"/>
<text x="140.0" y="785.6" text-anchor="end" class="tk">150</text>
<path d="M144.6 758.0h-3.4" stroke="#606060" stroke-width="0.9"/>
<text x="140.0" y="762.1" text-anchor="end" class="tk">200</text>
<path d="M144.6 734.5h-3.4" stroke="#606060" stroke-width="0.9"/>
<text x="140.0" y="738.6" text-anchor="end" class="tk">250</text>
<path d="M144.6 711.0h-3.4" stroke="#606060" stroke-width="0.9"/>
<text x="140.0" y="715.1" text-anchor="end" class="tk">300</text>
<path d="M144.6 687.5h-3.4" stroke="#606060" stroke-width="0.9"/>
<text x="140.0" y="691.6" text-anchor="end" class="tk">350</text>
<path d="M144.6 840.2h-2" stroke="#606060" stroke-width="0.9"/>
<path d="M144.6 816.8h-2" stroke="#606060" stroke-width="0.9"/>
<path d="M144.6 793.2h-2" stroke="#606060" stroke-width="0.9"/>
<path d="M144.6 769.8h-2" stroke="#606060" stroke-width="0.9"/>
<path d="M144.6 746.2h-2" stroke="#606060" stroke-width="0.9"/>
<path d="M144.6 722.8h-2" stroke="#606060" stroke-width="0.9"/>
<path d="M144.6 699.2h-2" stroke="#606060" stroke-width="0.9"/>
<rect x="330.6" y="690.3" width="50.599999999999966" height="62.5" fill="#fff" stroke="#888" stroke-width="0.8"/>
<path d="M336 698.9H357" stroke="#111111" stroke-width="1.1"/>
<use href="#mk" x="346.5" y="698.9"/>
<text x="359.6" y="702.2" class="tk">0</text>
<path d="M336 711.1H357" stroke="#ee4540" stroke-width="1.1"/>
<use href="#mr" x="346.5" y="711.1"/>
<text x="359.6" y="714.4" class="tk">10%</text>
<path d="M336 723.2H357" stroke="#3f3fee" stroke-width="1.1"/>
<use href="#mb" x="346.5" y="723.2"/>
<text x="359.6" y="726.5" class="tk">20%</text>
<path d="M336 735.2H357" stroke="#ee3fee" stroke-width="1.1"/>
<use href="#mm" x="346.5" y="735.2"/>
<text x="359.6" y="738.5" class="tk">30%</text>
<path d="M336 747.2H357" stroke="#2e8b2e" stroke-width="1.1"/>
<use href="#mg" x="346.5" y="747.2"/>
<text x="359.6" y="750.5" class="tk">40%</text>
<text x="265.3" y="891.5" text-anchor="middle" class="ax">温度/°C</text>
<text transform="translate(110.5,765.5) rotate(-90)" text-anchor="middle" class="ay">损耗模量/MPa</text>
<path d="M460.9 354.7L462.3 354.7L463.7 354.6L465.1 354.5L466.4 354.5L467.8 354.4L469.2 354.3L470.6 354.2L471.9 354.1L473.3 354.0L474.7 353.8L476.0 353.7L477.4 353.6L478.8 353.4L480.2 353.3L481.5 353.1L482.9 352.9L484.3 352.7L485.7 352.5L487.0 352.3L488.4 352.0L489.8 351.7L491.1 351.3L492.5 350.9L493.9 350.4L495.3 349.9L496.6 349.4L498.0 348.9L499.4 348.3L500.8 347.7L502.1 347.0L503.5 346.3L504.9 345.5L506.2 344.6L507.6 343.6L509.0 342.5L510.4 341.3L511.7 339.9L513.1 338.5L514.5 337.0L515.8 335.4L517.2 333.7L518.6 331.8L520.0 329.8L521.3 327.7L522.7 325.4L524.1 323.0L525.5 320.5L526.8 317.8L528.2 314.9L529.6 311.7L530.9 308.6L532.3 305.5L533.7 302.5L535.1 299.4L536.4 296.2L537.8 292.7L539.2 289.4L540.6 286.4L541.9 283.9L543.3 281.5L544.7 279.3L546.0 277.0L547.4 274.8L548.8 273.3L550.2 272.7L551.5 272.2L552.9 271.9L554.3 272.0L555.7 272.8L557.0 274.0L558.4 275.3L559.8 276.8L561.1 278.6L562.5 280.4L563.9 282.2L565.3 284.1L566.6 285.9L568.0 287.7L569.4 289.4L570.8 291.2L572.1 293.0L573.5 294.8L574.9 296.5L576.2 298.2L577.6 299.6L579.0 301.1L580.4 302.8L581.7 304.6L583.1 306.6L584.5 308.6L585.8 310.6L587.2 312.4L588.6 314.1L590.0 315.6L591.3 317.1L592.7 318.5L594.1 319.9L595.5 321.2L596.8 322.5L598.2 323.7L599.6 325.0L600.9 326.2L602.3 327.3L603.7 328.4L605.1 329.5L606.4 330.6L607.8 331.6L609.2 332.6L610.6 333.5L611.9 334.4L613.3 335.3L614.7 336.1L616.0 336.9L617.4 337.6L618.8 338.3L620.2 339.0L621.5 339.7L622.9 340.3L624.3 340.9L625.6 341.5L627.0 342.0L628.4 342.5L629.8 342.9L631.1 343.3L632.5 343.7L633.9 344.1L635.3 344.4L636.6 344.7L638.0 345.0L639.4 345.3L640.7 345.5L642.1 345.8L643.5 346.0L644.9 346.2L646.2 346.3L647.6 346.5L649.0 346.7L650.4 346.8L651.7 346.9L653.1 347.1L654.5 347.2L655.8 347.2L657.2 347.3L658.6 347.3L660.0 347.3L661.3 347.3L662.7 347.3L664.1 347.3L665.5 347.3L666.8 347.3L668.2 347.3L669.6 347.3L670.9 347.3L672.3 347.3L673.7 347.3L675.1 347.3L676.4 347.3L677.8 347.3L679.2 347.3L680.5 347.3L681.9 347.3L683.3 347.2L684.7 347.2L686.0 347.2L687.4 347.1L688.8 347.1L690.2 347.1L691.5 347.0L692.9 347.0L694.3 346.9L695.6 346.9L697.0 346.9" fill="none" stroke="#111111" stroke-width="1"/>
<use href="#mk" x="460.9" y="354.7"/>
<use href="#mk" x="465.1" y="354.5"/>
<use href="#mk" x="469.3" y="354.3"/>
<use href="#mk" x="473.5" y="353.9"/>
<use href="#mk" x="477.6" y="353.5"/>
<use href="#mk" x="481.8" y="353.1"/>
<use href="#mk" x="486.0" y="352.5"/>
<use href="#mk" x="490.2" y="351.6"/>
<use href="#mk" x="494.3" y="350.2"/>
<use href="#mk" x="498.5" y="348.7"/>
<use href="#mk" x="502.7" y="346.7"/>
<use href="#mk" x="506.8" y="344.2"/>
<use href="#mk" x="511.0" y="340.6"/>
<use href="#mk" x="515.2" y="336.2"/>
<use href="#mk" x="519.4" y="330.7"/>
<use href="#mk" x="523.5" y="324.0"/>
<use href="#mk" x="527.7" y="316.0"/>
<use href="#mk" x="531.9" y="306.5"/>
<use href="#mk" x="536.1" y="297.1"/>
<use href="#mk" x="540.2" y="287.1"/>
<use href="#mk" x="544.4" y="279.8"/>
<use href="#mk" x="548.6" y="273.5"/>
<use href="#mk" x="552.7" y="271.9"/>
<use href="#mk" x="556.9" y="273.9"/>
<use href="#mk" x="561.1" y="278.6"/>
<use href="#mk" x="565.3" y="284.1"/>
<use href="#mk" x="569.4" y="289.5"/>
<use href="#mk" x="573.6" y="294.9"/>
<use href="#mk" x="577.8" y="299.8"/>
<use href="#mk" x="581.9" y="304.9"/>
<use href="#mk" x="586.1" y="311.0"/>
<use href="#mk" x="590.3" y="316.0"/>
<use href="#mk" x="594.5" y="320.2"/>
<use href="#mk" x="598.6" y="324.1"/>
<use href="#mk" x="602.8" y="327.7"/>
<use href="#mk" x="607.0" y="331.0"/>
<use href="#mk" x="611.2" y="333.9"/>
<use href="#mk" x="615.3" y="336.5"/>
<use href="#mk" x="619.5" y="338.7"/>
<use href="#mk" x="623.7" y="340.6"/>
<use href="#mk" x="627.8" y="342.3"/>
<use href="#mk" x="632.0" y="343.6"/>
<use href="#mk" x="636.2" y="344.6"/>
<use href="#mk" x="640.4" y="345.5"/>
<use href="#mk" x="644.5" y="346.1"/>
<use href="#mk" x="648.7" y="346.6"/>
<use href="#mk" x="652.9" y="347.0"/>
<use href="#mk" x="657.1" y="347.3"/>
<use href="#mk" x="661.2" y="347.3"/>
<use href="#mk" x="665.4" y="347.3"/>
<use href="#mk" x="669.6" y="347.3"/>
<use href="#mk" x="673.7" y="347.3"/>
<use href="#mk" x="677.9" y="347.3"/>
<use href="#mk" x="682.1" y="347.3"/>
<use href="#mk" x="686.3" y="347.2"/>
<use href="#mk" x="690.4" y="347.1"/>
<use href="#mk" x="694.6" y="346.9"/>
<path d="M460.9 355.7L462.3 355.7L463.7 355.7L465.1 355.6L466.4 355.6L467.8 355.5L469.2 355.5L470.6 355.4L471.9 355.4L473.3 355.3L474.7 355.2L476.0 355.1L477.4 355.1L478.8 355.0L480.2 354.9L481.5 354.8L482.9 354.7L484.3 354.6L485.7 354.5L487.0 354.5L488.4 354.4L489.8 354.3L491.1 354.2L492.5 354.0L493.9 353.9L495.3 353.8L496.6 353.7L498.0 353.5L499.4 353.4L500.8 353.2L502.1 353.0L503.5 352.8L504.9 352.6L506.2 352.4L507.6 352.1L509.0 351.7L510.4 351.4L511.7 350.9L513.1 350.5L514.5 350.0L515.8 349.4L517.2 348.8L518.6 348.2L520.0 347.6L521.3 346.8L522.7 346.0L524.1 344.9L525.5 343.8L526.8 342.6L528.2 341.4L529.6 340.2L530.9 338.7L532.3 337.0L533.7 335.1L535.1 333.1L536.4 331.0L537.8 328.8L539.2 326.3L540.6 323.5L541.9 320.3L543.3 316.9L544.7 313.5L546.0 309.9L547.4 306.2L548.8 302.2L550.2 297.9L551.5 293.4L552.9 289.0L554.3 284.6L555.7 280.3L557.0 276.2L558.4 272.4L559.8 268.8L561.1 265.6L562.5 262.9L563.9 260.5L565.3 258.5L566.6 257.1L568.0 255.7L569.4 254.8L570.8 254.7L572.1 255.0L573.5 255.6L574.9 256.3L576.2 257.6L577.6 259.5L579.0 261.5L580.4 263.5L581.7 265.6L583.1 267.8L584.5 270.2L585.8 272.6L587.2 275.0L588.6 277.3L590.0 279.5L591.3 281.6L592.7 283.9L594.1 286.2L595.5 288.6L596.8 291.0L598.2 293.3L599.6 295.8L600.9 298.2L602.3 300.8L603.7 303.3L605.1 305.6L606.4 307.8L607.8 309.8L609.2 311.6L610.6 313.3L611.9 315.0L613.3 316.7L614.7 318.4L616.0 320.1L617.4 321.7L618.8 323.3L620.2 324.7L621.5 326.1L622.9 327.4L624.3 328.6L625.6 329.6L627.0 330.6L628.4 331.5L629.8 332.4L631.1 333.3L632.5 334.2L633.9 335.1L635.3 335.9L636.6 336.6L638.0 337.3L639.4 337.9L640.7 338.4L642.1 338.9L643.5 339.4L644.9 339.9L646.2 340.3L647.6 340.6L649.0 341.0L650.4 341.3L651.7 341.6L653.1 341.8L654.5 342.0L655.8 342.2L657.2 342.3L658.6 342.5L660.0 342.6L661.3 342.7L662.7 342.8L664.1 342.9L665.5 342.9L666.8 342.9L668.2 342.9L669.6 342.9L670.9 342.9L672.3 342.9L673.7 342.8L675.1 342.8L676.4 342.7L677.8 342.7L679.2 342.6L680.5 342.6L681.9 342.5L683.3 342.4L684.7 342.3L686.0 342.2L687.4 342.1L688.8 342.0L690.2 341.9L691.5 341.7L692.9 341.6L694.3 341.5L695.6 341.3L697.0 341.2L698.4 341.1L699.8 341.0" fill="none" stroke="#ee4540" stroke-width="1"/>
<use href="#mr" x="460.9" y="355.7"/>
<use href="#mr" x="465.1" y="355.6"/>
<use href="#mr" x="469.3" y="355.5"/>
<use href="#mr" x="473.5" y="355.3"/>
<use href="#mr" x="477.6" y="355.1"/>
<use href="#mr" x="481.8" y="354.8"/>
<use href="#mr" x="486.0" y="354.5"/>
<use href="#mr" x="490.2" y="354.2"/>
<use href="#mr" x="494.3" y="353.9"/>
<use href="#mr" x="498.5" y="353.5"/>
<use href="#mr" x="502.7" y="352.9"/>
<use href="#mr" x="506.8" y="352.2"/>
<use href="#mr" x="511.0" y="351.2"/>
<use href="#mr" x="515.2" y="349.7"/>
<use href="#mr" x="519.4" y="347.8"/>
<use href="#mr" x="523.5" y="345.3"/>
<use href="#mr" x="527.7" y="341.9"/>
<use href="#mr" x="531.9" y="337.6"/>
<use href="#mr" x="536.1" y="331.6"/>
<use href="#mr" x="540.2" y="324.2"/>
<use href="#mr" x="544.4" y="314.2"/>
<use href="#mr" x="548.6" y="302.9"/>
<use href="#mr" x="552.7" y="289.5"/>
<use href="#mr" x="556.9" y="276.5"/>
<use href="#mr" x="561.1" y="265.7"/>
<use href="#mr" x="565.3" y="258.5"/>
<use href="#mr" x="569.4" y="254.8"/>
<use href="#mr" x="573.6" y="255.6"/>
<use href="#mr" x="577.8" y="259.7"/>
<use href="#mr" x="581.9" y="265.9"/>
<use href="#mr" x="586.1" y="273.1"/>
<use href="#mr" x="590.3" y="280.0"/>
<use href="#mr" x="594.5" y="286.9"/>
<use href="#mr" x="598.6" y="294.1"/>
<use href="#mr" x="602.8" y="301.7"/>
<use href="#mr" x="607.0" y="308.6"/>
<use href="#mr" x="611.2" y="314.0"/>
<use href="#mr" x="615.3" y="319.2"/>
<use href="#mr" x="619.5" y="324.0"/>
<use href="#mr" x="623.7" y="328.1"/>
<use href="#mr" x="627.8" y="331.1"/>
<use href="#mr" x="632.0" y="333.9"/>
<use href="#mr" x="636.2" y="336.4"/>
<use href="#mr" x="640.4" y="338.3"/>
<use href="#mr" x="644.5" y="339.8"/>
<use href="#mr" x="648.7" y="340.9"/>
<use href="#mr" x="652.9" y="341.8"/>
<use href="#mr" x="657.1" y="342.3"/>
<use href="#mr" x="661.2" y="342.7"/>
<use href="#mr" x="665.4" y="342.9"/>
<use href="#mr" x="669.6" y="342.9"/>
<use href="#mr" x="673.7" y="342.8"/>
<use href="#mr" x="677.9" y="342.7"/>
<use href="#mr" x="682.1" y="342.5"/>
<use href="#mr" x="686.3" y="342.2"/>
<use href="#mr" x="690.4" y="341.8"/>
<use href="#mr" x="694.6" y="341.4"/>
<use href="#mr" x="698.8" y="341.0"/>
<path d="M460.9 356.7L462.3 356.6L463.7 356.6L465.1 356.6L466.4 356.6L467.8 356.6L469.2 356.5L470.6 356.5L471.9 356.4L473.3 356.4L474.7 356.3L476.0 356.3L477.4 356.2L478.8 356.2L480.2 356.1L481.5 356.1L482.9 356.0L484.3 355.9L485.7 355.9L487.0 355.8L488.4 355.7L489.8 355.7L491.1 355.6L492.5 355.5L493.9 355.4L495.3 355.3L496.6 355.2L498.0 355.1L499.4 355.0L500.8 354.9L502.1 354.8L503.5 354.6L504.9 354.5L506.2 354.4L507.6 354.2L509.0 354.1L510.4 353.9L511.7 353.8L513.1 353.6L514.5 353.4L515.8 353.2L517.2 352.9L518.6 352.6L520.0 352.3L521.3 352.0L522.7 351.6L524.1 351.1L525.5 350.6L526.8 349.9L528.2 349.2L529.6 348.5L530.9 347.8L532.3 347.0L533.7 346.1L535.1 345.0L536.4 343.8L537.8 342.3L539.2 340.7L540.6 338.7L541.9 336.5L543.3 334.1L544.7 331.6L546.0 328.8L547.4 325.9L548.8 322.8L550.2 319.4L551.5 315.7L552.9 311.7L554.3 306.8L555.7 301.5L557.0 296.0L558.4 290.1L559.8 284.3L561.1 279.0L562.5 273.9L563.9 269.1L565.3 264.4L566.6 259.7L568.0 255.2L569.4 251.0L570.8 247.2L572.1 243.6L573.5 240.6L574.9 238.6L576.2 237.2L577.6 236.2L579.0 235.8L580.4 236.2L581.7 237.2L583.1 238.6L584.5 240.5L585.8 243.3L587.2 246.5L588.6 249.6L590.0 253.0L591.3 256.5L592.7 260.0L594.1 263.5L595.5 266.9L596.8 270.3L598.2 273.7L599.6 276.9L600.9 279.9L602.3 282.6L603.7 285.3L605.1 288.1L606.4 291.0L607.8 293.8L609.2 296.3L610.6 298.4L611.9 300.4L613.3 302.4L614.7 304.5L616.0 306.6L617.4 308.6L618.8 310.5L620.2 312.3L621.5 314.1L622.9 315.9L624.3 317.5L625.6 319.2L627.0 320.7L628.4 322.1L629.8 323.5L631.1 324.8L632.5 326.1L633.9 327.3L635.3 328.4L636.6 329.3L638.0 330.1L639.4 330.9L640.7 331.6L642.1 332.4L643.5 333.0L644.9 333.6L646.2 334.2L647.6 334.7L649.0 335.2L650.4 335.6L651.7 335.9L653.1 336.2L654.5 336.5L655.8 336.7L657.2 337.0L658.6 337.2L660.0 337.3L661.3 337.4L662.7 337.4L664.1 337.4L665.5 337.4L666.8 337.4L668.2 337.3L669.6 337.3L670.9 337.2L672.3 337.1L673.7 337.1L675.1 337.0L676.4 336.9L677.8 336.7L679.2 336.5L680.5 336.3L681.9 336.1L683.3 335.9L684.7 335.7L686.0 335.4L687.4 335.1L688.8 334.9L690.2 334.6L691.5 334.2L692.9 333.9L694.3 333.5L695.6 333.1L697.0 332.8L698.4 332.4" fill="none" stroke="#3f3fee" stroke-width="1"/>
<use href="#mb" x="460.9" y="356.7"/>
<use href="#mb" x="465.1" y="356.6"/>
<use href="#mb" x="469.3" y="356.5"/>
<use href="#mb" x="473.5" y="356.4"/>
<use href="#mb" x="477.6" y="356.2"/>
<use href="#mb" x="481.8" y="356.0"/>
<use href="#mb" x="486.0" y="355.8"/>
<use href="#mb" x="490.2" y="355.6"/>
<use href="#mb" x="494.3" y="355.4"/>
<use href="#mb" x="498.5" y="355.1"/>
<use href="#mb" x="502.7" y="354.7"/>
<use href="#mb" x="506.8" y="354.3"/>
<use href="#mb" x="511.0" y="353.8"/>
<use href="#mb" x="515.2" y="353.3"/>
<use href="#mb" x="519.4" y="352.5"/>
<use href="#mb" x="523.5" y="351.4"/>
<use href="#mb" x="527.7" y="349.5"/>
<use href="#mb" x="531.9" y="347.3"/>
<use href="#mb" x="536.1" y="344.2"/>
<use href="#mb" x="540.2" y="339.2"/>
<use href="#mb" x="544.4" y="332.1"/>
<use href="#mb" x="548.6" y="323.3"/>
<use href="#mb" x="552.7" y="312.2"/>
<use href="#mb" x="556.9" y="296.4"/>
<use href="#mb" x="561.1" y="279.2"/>
<use href="#mb" x="565.3" y="264.4"/>
<use href="#mb" x="569.4" y="250.8"/>
<use href="#mb" x="573.6" y="240.4"/>
<use href="#mb" x="577.8" y="236.1"/>
<use href="#mb" x="581.9" y="237.4"/>
<use href="#mb" x="586.1" y="243.9"/>
<use href="#mb" x="590.3" y="253.9"/>
<use href="#mb" x="594.5" y="264.5"/>
<use href="#mb" x="598.6" y="274.7"/>
<use href="#mb" x="602.8" y="283.6"/>
<use href="#mb" x="607.0" y="292.1"/>
<use href="#mb" x="611.2" y="299.3"/>
<use href="#mb" x="615.3" y="305.5"/>
<use href="#mb" x="619.5" y="311.5"/>
<use href="#mb" x="623.7" y="316.8"/>
<use href="#mb" x="627.8" y="321.5"/>
<use href="#mb" x="632.0" y="325.6"/>
<use href="#mb" x="636.2" y="329.0"/>
<use href="#mb" x="640.4" y="331.4"/>
<use href="#mb" x="644.5" y="333.5"/>
<use href="#mb" x="648.7" y="335.1"/>
<use href="#mb" x="652.9" y="336.2"/>
<use href="#mb" x="657.1" y="336.9"/>
<use href="#mb" x="661.2" y="337.4"/>
<use href="#mb" x="665.4" y="337.4"/>
<use href="#mb" x="669.6" y="337.3"/>
<use href="#mb" x="673.7" y="337.1"/>
<use href="#mb" x="677.9" y="336.7"/>
<use href="#mb" x="682.1" y="336.1"/>
<use href="#mb" x="686.3" y="335.4"/>
<use href="#mb" x="690.4" y="334.5"/>
<use href="#mb" x="694.6" y="333.4"/>
<path d="M460.9 357.3L462.3 357.3L463.7 357.3L465.1 357.3L466.4 357.3L467.8 357.3L469.2 357.3L470.6 357.3L471.9 357.2L473.3 357.2L474.7 357.2L476.0 357.2L477.4 357.2L478.8 357.1L480.2 357.1L481.5 357.1L482.9 357.1L484.3 357.0L485.7 357.0L487.0 357.0L488.4 356.9L489.8 356.9L491.1 356.9L492.5 356.8L493.9 356.8L495.3 356.7L496.6 356.7L498.0 356.7L499.4 356.6L500.8 356.6L502.1 356.5L503.5 356.5L504.9 356.4L506.2 356.4L507.6 356.3L509.0 356.3L510.4 356.2L511.7 356.2L513.1 356.1L514.5 356.0L515.8 355.9L517.2 355.8L518.6 355.7L520.0 355.6L521.3 355.5L522.7 355.3L524.1 355.2L525.5 355.0L526.8 354.8L528.2 354.7L529.6 354.4L530.9 354.1L532.3 353.7L533.7 353.3L535.1 352.9L536.4 352.5L537.8 352.1L539.2 351.6L540.6 351.1L541.9 350.4L543.3 349.6L544.7 348.5L546.0 347.4L547.4 346.1L548.8 344.6L550.2 342.9L551.5 341.1L552.9 338.8L554.3 336.3L555.7 333.5L557.0 330.5L558.4 327.2L559.8 323.5L561.1 319.3L562.5 314.5L563.9 309.5L565.3 304.0L566.6 298.2L568.0 292.1L569.4 285.8L570.8 279.7L572.1 273.9L573.5 267.9L574.9 261.4L576.2 254.3L577.6 247.2L579.0 240.2L580.4 233.2L581.7 227.2L583.1 222.4L584.5 218.3L585.8 215.8L587.2 214.7L588.6 214.1L590.0 214.2L591.3 215.1L592.7 216.4L594.1 219.0L595.5 223.0L596.8 227.2L598.2 231.2L599.6 235.4L600.9 239.8L602.3 244.8L603.7 249.8L605.1 254.3L606.4 258.4L607.8 262.3L609.2 266.2L610.6 270.2L611.9 274.2L613.3 277.9L614.7 281.3L616.0 284.6L617.4 287.9L618.8 291.3L620.2 294.6L621.5 297.7L622.9 300.5L624.3 303.0L625.6 305.2L627.0 307.0L628.4 308.6L629.8 310.2L631.1 312.1L632.5 314.0L633.9 315.9L635.3 317.4L636.6 318.6L638.0 319.8L639.4 320.9L640.7 322.0L642.1 323.1L643.5 324.1L644.9 325.0L646.2 325.9L647.6 326.7L649.0 327.4L650.4 328.0L651.7 328.6L653.1 329.1L654.5 329.6L655.8 330.0L657.2 330.4L658.6 330.7L660.0 331.0L661.3 331.3L662.7 331.5L664.1 331.7L665.5 331.8L666.8 331.8L668.2 331.8L669.6 331.8L670.9 331.8L672.3 331.8L673.7 331.8L675.1 331.8L676.4 331.8L677.8 331.8L679.2 331.6L680.5 331.5L681.9 331.2L683.3 331.0L684.7 330.7L686.0 330.5L687.4 330.2L688.8 330.0L690.2 329.7L691.5 329.5L692.9 329.2L694.3 328.9L695.6 328.6L697.0 328.3L698.4 328.0" fill="none" stroke="#ee3fee" stroke-width="1"/>
<use href="#mmL" x="460.9" y="357.3"/>
<use href="#mmL" x="464.3" y="357.3"/>
<use href="#mmL" x="467.6" y="357.3"/>
<use href="#mmL" x="471.0" y="357.3"/>
<use href="#mmL" x="474.3" y="357.2"/>
<use href="#mmL" x="477.7" y="357.2"/>
<use href="#mmL" x="481.0" y="357.1"/>
<use href="#mmL" x="484.4" y="357.0"/>
<use href="#mmL" x="487.7" y="357.0"/>
<use href="#mmL" x="491.1" y="356.9"/>
<use href="#mmL" x="494.4" y="356.8"/>
<use href="#mmL" x="497.8" y="356.7"/>
<use href="#mmL" x="501.1" y="356.6"/>
<use href="#mmL" x="504.5" y="356.4"/>
<use href="#mmL" x="507.8" y="356.3"/>
<use href="#mmL" x="511.2" y="356.2"/>
<use href="#mmL" x="514.5" y="356.0"/>
<use href="#mmL" x="517.9" y="355.8"/>
<use href="#mmL" x="521.2" y="355.5"/>
<use href="#mmL" x="524.6" y="355.1"/>
<use href="#mmL" x="527.9" y="354.7"/>
<use href="#mmL" x="531.3" y="354.0"/>
<use href="#mmL" x="534.6" y="353.1"/>
<use href="#mmL" x="538.0" y="352.0"/>
<use href="#mmL" x="541.8" y="350.5"/>
<use href="#mmL" x="545.7" y="347.7"/>
<use href="#mmL" x="549.5" y="343.7"/>
<use href="#mmL" x="553.8" y="337.3"/>
<use href="#mmL" x="558.0" y="328.2"/>
<use href="#mmL" x="562.3" y="315.4"/>
<use href="#mmL" x="566.5" y="298.7"/>
<use href="#mmL" x="570.8" y="279.6"/>
<use href="#mmL" x="575.0" y="260.5"/>
<use href="#mmL" x="579.3" y="238.6"/>
<use href="#mmL" x="583.5" y="221.0"/>
<use href="#mmL" x="587.8" y="214.4"/>
<use href="#mmL" x="592.1" y="215.7"/>
<use href="#mmL" x="596.3" y="225.7"/>
<use href="#mmL" x="600.6" y="238.5"/>
<use href="#mmL" x="604.8" y="253.6"/>
<use href="#mmL" x="609.1" y="265.9"/>
<use href="#mmL" x="613.3" y="278.0"/>
<use href="#mmL" x="617.6" y="288.3"/>
<use href="#mmL" x="621.8" y="298.3"/>
<use href="#mmL" x="626.1" y="305.8"/>
<use href="#mmL" x="630.3" y="311.0"/>
<use href="#mmL" x="634.6" y="316.7"/>
<use href="#mmL" x="638.9" y="320.5"/>
<use href="#mmL" x="643.1" y="323.8"/>
<use href="#mmL" x="647.4" y="326.6"/>
<use href="#mmL" x="651.6" y="328.6"/>
<use href="#mmL" x="655.9" y="330.0"/>
<use href="#mmL" x="660.1" y="331.0"/>
<use href="#mmL" x="664.4" y="331.7"/>
<use href="#mmL" x="668.6" y="331.8"/>
<use href="#mmL" x="672.9" y="331.8"/>
<use href="#mmL" x="677.1" y="331.8"/>
<use href="#mmL" x="681.4" y="331.3"/>
<use href="#mmL" x="685.7" y="330.5"/>
<use href="#mmL" x="689.9" y="329.8"/>
<use href="#mmL" x="694.2" y="328.9"/>
<path d="M460.9 358.0L462.3 358.0L463.7 358.0L465.1 358.0L466.4 358.0L467.8 358.0L469.2 358.0L470.6 358.0L471.9 358.0L473.3 358.0L474.7 358.0L476.0 358.0L477.4 357.9L478.8 357.9L480.2 357.9L481.5 357.9L482.9 357.9L484.3 357.8L485.7 357.8L487.0 357.8L488.4 357.8L489.8 357.7L491.1 357.7L492.5 357.7L493.9 357.6L495.3 357.6L496.6 357.6L498.0 357.5L499.4 357.5L500.8 357.4L502.1 357.4L503.5 357.4L504.9 357.3L506.2 357.3L507.6 357.2L509.0 357.2L510.4 357.1L511.7 357.1L513.1 357.0L514.5 356.9L515.8 356.9L517.2 356.8L518.6 356.8L520.0 356.7L521.3 356.6L522.7 356.6L524.1 356.5L525.5 356.4L526.8 356.4L528.2 356.3L529.6 356.2L530.9 356.0L532.3 355.8L533.7 355.6L535.1 355.3L536.4 355.0L537.8 354.7L539.2 354.4L540.6 354.2L541.9 353.9L543.3 353.6L544.7 353.2L546.0 352.9L547.4 352.5L548.8 352.0L550.2 351.4L551.5 350.7L552.9 350.0L554.3 349.3L555.7 348.6L557.0 347.8L558.4 346.9L559.8 345.6L561.1 344.0L562.5 342.2L563.9 340.3L565.3 338.3L566.6 336.1L568.0 333.6L569.4 330.7L570.8 327.6L572.1 324.3L573.5 320.8L574.9 316.9L576.2 312.6L577.6 307.9L579.0 302.4L580.4 296.1L581.7 288.1L583.1 279.2L584.5 271.2L585.8 263.5L587.2 256.4L588.6 250.3L590.0 245.1L591.3 240.4L592.7 236.0L594.1 231.5L595.5 227.2L596.8 223.8L598.2 221.2L599.6 218.9L600.9 217.5L602.3 217.1L603.7 216.9L605.1 218.2L606.4 220.3L607.8 223.2L609.2 227.0L610.6 230.8L611.9 234.5L613.3 238.2L614.7 242.0L616.0 246.1L617.4 250.5L618.8 254.9L620.2 259.2L621.5 263.5L622.9 267.7L624.3 271.8L625.6 275.8L627.0 279.7L628.4 283.1L629.8 286.3L631.1 289.3L632.5 292.0L633.9 294.5L635.3 296.9L636.6 299.2L638.0 301.5L639.4 303.7L640.7 305.7L642.1 307.5L643.5 309.3L644.9 310.9L646.2 312.4L647.6 313.9L649.0 315.1L650.4 316.2L651.7 317.1L653.1 318.0L654.5 319.0L655.8 319.9L657.2 320.9L658.6 321.8L660.0 322.7L661.3 323.6L662.7 324.4L664.1 325.3L665.5 326.0L666.8 326.5L668.2 326.9L669.6 327.2" fill="none" stroke="#2e8b2e" stroke-width="1"/>
<use href="#mgL" x="460.9" y="358.0"/>
<use href="#mgL" x="463.6" y="358.0"/>
<use href="#mgL" x="466.3" y="358.0"/>
<use href="#mgL" x="469.0" y="358.0"/>
<use href="#mgL" x="471.7" y="358.0"/>
<use href="#mgL" x="474.4" y="358.0"/>
<use href="#mgL" x="477.1" y="357.9"/>
<use href="#mgL" x="479.8" y="357.9"/>
<use href="#mgL" x="482.5" y="357.9"/>
<use href="#mgL" x="485.2" y="357.8"/>
<use href="#mgL" x="487.9" y="357.8"/>
<use href="#mgL" x="490.5" y="357.7"/>
<use href="#mgL" x="493.2" y="357.7"/>
<use href="#mgL" x="495.9" y="357.6"/>
<use href="#mgL" x="498.6" y="357.5"/>
<use href="#mgL" x="501.3" y="357.4"/>
<use href="#mgL" x="504.0" y="357.3"/>
<use href="#mgL" x="506.7" y="357.2"/>
<use href="#mgL" x="509.4" y="357.1"/>
<use href="#mgL" x="512.1" y="357.0"/>
<use href="#mgL" x="514.8" y="356.9"/>
<use href="#mgL" x="517.4" y="356.8"/>
<use href="#mgL" x="520.1" y="356.7"/>
<use href="#mgL" x="522.8" y="356.6"/>
<use href="#mgL" x="525.5" y="356.4"/>
<use href="#mgL" x="528.2" y="356.3"/>
<use href="#mgL" x="530.9" y="356.0"/>
<use href="#mgL" x="533.6" y="355.6"/>
<use href="#mgL" x="536.3" y="355.1"/>
<use href="#mgL" x="539.7" y="354.3"/>
<use href="#mgL" x="543.1" y="353.6"/>
<use href="#mgL" x="546.6" y="352.7"/>
<use href="#mgL" x="550.0" y="351.5"/>
<use href="#mgL" x="554.3" y="349.3"/>
<use href="#mgL" x="558.7" y="346.6"/>
<use href="#mgL" x="563.0" y="341.5"/>
<use href="#mgL" x="567.3" y="334.8"/>
<use href="#mgL" x="571.7" y="325.4"/>
<use href="#mgL" x="576.0" y="313.4"/>
<use href="#mgL" x="580.4" y="296.1"/>
<use href="#mgL" x="584.7" y="269.9"/>
<use href="#mgL" x="589.0" y="248.6"/>
<use href="#mgL" x="593.4" y="233.9"/>
<use href="#mgL" x="597.7" y="222.1"/>
<use href="#mgL" x="602.0" y="217.1"/>
<use href="#mgL" x="606.4" y="220.2"/>
<use href="#mgL" x="610.7" y="231.3"/>
<use href="#mgL" x="615.1" y="243.1"/>
<use href="#mgL" x="619.4" y="256.8"/>
<use href="#mgL" x="623.7" y="270.1"/>
<use href="#mgL" x="628.1" y="282.3"/>
<use href="#mgL" x="632.4" y="291.8"/>
<use href="#mgL" x="636.7" y="299.4"/>
<use href="#mgL" x="641.1" y="306.2"/>
<use href="#mgL" x="645.4" y="311.5"/>
<use href="#mgL" x="649.8" y="315.7"/>
<use href="#mgL" x="654.1" y="318.7"/>
<use href="#mgL" x="658.4" y="321.7"/>
<use href="#mgL" x="662.8" y="324.5"/>
<use href="#mgL" x="667.1" y="326.6"/>
<rect x="461.0" y="196.2" width="246.79999999999995" height="181.10000000000002" fill="none" stroke="#606060" stroke-width="1.35"/>
<path d="M460.9 377.3v-1.8" stroke="#606060" stroke-width="0.9"/>
<path d="M488.4 377.3v-3.2" stroke="#606060" stroke-width="0.9"/>
<path d="M515.8 377.3v-1.8" stroke="#606060" stroke-width="0.9"/>
<path d="M543.3 377.3v-3.2" stroke="#606060" stroke-width="0.9"/>
<path d="M570.8 377.3v-1.8" stroke="#606060" stroke-width="0.9"/>
<path d="M598.2 377.3v-3.2" stroke="#606060" stroke-width="0.9"/>
<path d="M625.6 377.3v-1.8" stroke="#606060" stroke-width="0.9"/>
<path d="M653.1 377.3v-3.2" stroke="#606060" stroke-width="0.9"/>
<path d="M680.5 377.3v-1.8" stroke="#606060" stroke-width="0.9"/>
<path d="M708.0 377.3v-3.2" stroke="#606060" stroke-width="0.9"/>
<text x="488.4" y="390.9" text-anchor="middle" class="tk">–20</text>
<text x="543.3" y="390.9" text-anchor="middle" class="tk">0</text>
<text x="598.2" y="390.9" text-anchor="middle" class="tk">20</text>
<text x="653.1" y="390.9" text-anchor="middle" class="tk">40</text>
<text x="708.0" y="390.9" text-anchor="middle" class="tk">60</text>
<path d="M461.0 359.2h-3.4" stroke="#606060" stroke-width="0.9"/>
<text x="456.4" y="363.3" text-anchor="end" class="tk">0.0</text>
<path d="M461.0 322.9h-3.4" stroke="#606060" stroke-width="0.9"/>
<text x="456.4" y="327.0" text-anchor="end" class="tk">0.5</text>
<path d="M461.0 286.6h-3.4" stroke="#606060" stroke-width="0.9"/>
<text x="456.4" y="290.7" text-anchor="end" class="tk">1.0</text>
<path d="M461.0 250.3h-3.4" stroke="#606060" stroke-width="0.9"/>
<text x="456.4" y="254.4" text-anchor="end" class="tk">1.5</text>
<path d="M461.0 214.0h-3.4" stroke="#606060" stroke-width="0.9"/>
<text x="456.4" y="218.1" text-anchor="end" class="tk">2.0</text>
<path d="M461.0 377.3h-2" stroke="#606060" stroke-width="0.9"/>
<path d="M461.0 341.1h-2" stroke="#606060" stroke-width="0.9"/>
<path d="M461.0 304.8h-2" stroke="#606060" stroke-width="0.9"/>
<path d="M461.0 268.4h-2" stroke="#606060" stroke-width="0.9"/>
<path d="M461.0 232.2h-2" stroke="#606060" stroke-width="0.9"/>
<rect x="653.5" y="197.2" width="52.0" height="63.80000000000001" fill="#fff" stroke="#888" stroke-width="0.8"/>
<path d="M659 205.6H681" stroke="#111111" stroke-width="1.1"/>
<use href="#mk" x="670.0" y="205.6"/>
<text x="683" y="208.9" class="tk">0</text>
<path d="M659 218.4H681" stroke="#ee4540" stroke-width="1.1"/>
<use href="#mr" x="670.0" y="218.4"/>
<text x="683" y="221.7" class="tk">10%</text>
<path d="M659 231.0H681" stroke="#3f3fee" stroke-width="1.1"/>
<use href="#mb" x="670.0" y="231.0"/>
<text x="683" y="234.3" class="tk">20%</text>
<path d="M659 243.5H681" stroke="#ee3fee" stroke-width="1.1"/>
<use href="#mmL" x="670.0" y="243.5"/>
<text x="683" y="246.8" class="tk">30%</text>
<path d="M659 255.8H681" stroke="#2e8b2e" stroke-width="1.1"/>
<use href="#mgL" x="670.0" y="255.8"/>
<text x="683" y="259.1" class="tk">40%</text>
<text x="578" y="407" text-anchor="middle" class="ax">温度/°C</text>
<text transform="translate(434.5,285.5) rotate(-90)" text-anchor="middle" class="ay" style="font-size:11.4px">tanδ</text>
</svg>
<div class="hd" style="left:94.8px;top:58px;"><span class="hn">2020</span><span style="margin-left:1px">年</span><span style="display:inline-block;width:6.5px"></span>第<span class="hn" style="margin:0 3px">10</span>期</div>
<div class="hd" style="left:464.4px;top:58px;">王<span style="display:inline-block;width:15.4px"></span>伟等:有机填料对聚氨酯材料阻尼性能影响研究</div>
<div style="position:absolute;left:95px;top:74px;width:627px;height:1px;background:#c4c6c8"></div>
<div class="b j" style="left:94.00px;top:91.60px;width:306.09px;letter-spacing:1.086px;">当<span class="l">8033</span>含量过高<span class="pc">,</span>不能均匀分散在聚氨酯材料内部</div>
<div class="b j" style="left:94.00px;top:111.70px;width:305.92px;letter-spacing:0.923px;">时<span class="pc">,</span>其作用机理与其他无机填料类似<span class="pc">,</span>限制了聚氨酯</div>
<div class="b j" style="left:94.00px;top:131.80px;width:305.92px;letter-spacing:0.923px;">材料内部的热运动<span class="pc">,</span>导致材料的损耗因子降低<span class="pc">,</span>有效</div>
<div class="b" style="left:94.00px;top:151.90px;letter-spacing:0.100px;">阻尼温域变窄。</div>
<div class="b j" style="left:120.50px;top:192.10px;width:279.44px;letter-spacing:0.940px;">抗氧剂<span class="l">AO-80</span>是一种含酚羟基的受阻酚类化合</div>
<div class="b j" style="left:94.00px;top:212.20px;width:305.60px;letter-spacing:0.600px;">物<span class="pc">,</span><span class="l">AO-80</span>分子上的酚羟基能够与聚氨酯材料内部的</div>
<div class="b j" style="left:94.00px;top:232.30px;width:305.87px;letter-spacing:0.870px;">极性基团形成氢键<span class="pd">。</span>在聚氨酯材料中加入<span class="l">AO-80</span>后,</div>
<div class="b j" style="left:94.00px;top:252.40px;width:306.03px;letter-spacing:1.028px;">材料的储能模量在低温范围<span class="pl">(</span>－<span class="l">30</span>～－<span class="l">10</span> <span class="l">°C</span><span class="pr">)</span>随着</div>
<div class="b j" style="left:94.00px;top:272.50px;width:305.23px;letter-spacing:0.228px;"><span class="l">AO-80</span>含量的增加而逐渐降低<span class="pc">;</span>在中温范围<span class="pl">(</span>－<span class="l">10</span>～<span class="l">40</span></div>
<div class="b j" style="left:94.00px;top:292.60px;width:305.75px;letter-spacing:0.753px;"><span class="l">°C</span><span class="pr">)</span>随着<span class="l">AO-80</span>含量的增加而逐渐增加<span class="pc">;</span>在高温范围</div>
<div class="b j" style="left:94.00px;top:312.70px;width:305.33px;letter-spacing:0.331px;">(<span class="l">40</span>～<span class="l">60</span> <span class="l">°C</span><span class="pr">)</span>随着<span class="l">AO-80</span>含量的增加而逐渐降低<span class="pl">(</span>如图</div>
<div class="b j" style="left:94.00px;top:332.80px;width:305.43px;letter-spacing:0.426px;"><span class="l">6</span>所示<span class="pr">)</span><span class="pd">。</span>聚氨酯材料的损耗模量也随着<span class="l">AO-80</span>含量的</div>
<div class="b" style="left:94.00px;top:352.90px;letter-spacing:0.100px;">增加而降低并向高温范围移动<span class="pl">(</span>如图<span class="l">7</span>所示<span class="pr">)</span>。</div>
<div class="h3" style="left:94.0px;top:172.0px;">3.3<span style="display:inline-block;width:13px"></span>受阻酚AO-80对聚氨酯材料阻尼性能影响</div>
<div class="b j" style="left:120.50px;top:968.30px;width:279.57px;letter-spacing:1.072px;">相对于<i>β</i>–环糊精和<span class="l">8033</span><span class="pc">,</span><span class="l">AO-80</span>的加入对聚氨</div>
<div class="b j" style="left:94.00px;top:988.40px;width:305.94px;letter-spacing:0.940px;">酯材料动态力学性能的影响更加明显<span class="pl">(</span>如图<span class="l">8</span>所示<span class="pr">)</span>,</div>
<div class="b j" style="left:418.60px;top:91.60px;width:304.00px;letter-spacing:0.801px;">随着<span class="l">AO-80</span>含量的增加聚氨酯材料的最大损耗因子</div>
<div class="b j" style="left:418.60px;top:111.70px;width:303.82px;letter-spacing:0.624px;">(<span class="l">tan</span><i>δ</i><sub>max</sub><span class="pr">)</span>先增加后降低<span class="pc">,</span>玻璃化转变温度<span class="pl">(</span><i><span class="l">T</span></i><sub>g</sub><span class="pr">)</span>也逐渐</div>
<div class="b j" style="left:418.60px;top:131.80px;width:303.38px;letter-spacing:0.175px;">升高<span class="pd">。</span><span class="l">AO-80</span>质量分数为<span class="l">30%</span>时<span class="pc">,</span>材料的最大损耗因子</div>
<div class="b" style="left:418.60px;top:151.90px;letter-spacing:0.100px;">为<span class="l">2.0</span><span class="pc">,</span>较不添加填料的聚氨酯材料提升约<span class="l">70%</span>。</div>
<div class="b j" style="left:445.80px;top:490.00px;width:276.82px;letter-spacing:0.821px;">由于<span class="l">AO-80</span>分子可以通过氢键形成规整的网络</div>
<div class="b j" style="left:418.60px;top:510.10px;width:304.31px;letter-spacing:1.113px;">结构<span class="pc">,</span>且<span class="l">AO-80</span>分子间氢键作用力弱于聚氨酯材料</div>
<div class="b j" style="left:418.60px;top:530.20px;width:304.02px;letter-spacing:0.823px;">硬段间氢键作用力<span class="pc">,</span>在低温情况下<span class="pc">,</span><span class="l">AO-80</span>分子处于</div>
<div class="b j" style="left:418.60px;top:550.30px;width:304.04px;letter-spacing:0.841px;">结晶态<span class="pc">,</span>导致聚氨酯材料运动能力降低<span class="pc">,</span>玻璃化转变</div>
<div class="b j" style="left:418.60px;top:570.40px;width:304.01px;letter-spacing:0.807px;">温度提高<span class="pc">;</span>随着温度的升高<span class="pc">,</span><span class="l">AO-80</span>在聚氨酯材料中</div>
<div class="b j" style="left:418.60px;top:590.50px;width:304.02px;letter-spacing:0.823px;">的运动能力逐渐升高<span class="pc">,</span>规整度降低<span class="pc">,</span><span class="l">AO-80</span>分子间及</div>
<div class="b j" style="left:418.60px;top:610.60px;width:303.72px;letter-spacing:0.525px;"><span class="l">AO-80</span>分子与聚氨酯链段间的相互运动增加<span class="pc">,</span>材料的</div>
<div class="b" style="left:418.60px;top:630.70px;letter-spacing:0.100px;">损耗因子明显提升。</div>
<div class="h1" style="left:418.6px;top:662.8px;">4<span style="display:inline-block;width:14.5px"></span>结<span style="display:inline-block;width:19.5px"></span>语</div>
<div class="b j" style="left:445.80px;top:688.20px;width:275.92px;letter-spacing:-0.083px;">本文选择了<i>β</i>–环糊精<span class="pd">、</span>阻燃剂<span class="l">8033</span><span class="pd">、</span>受阻酚<span class="l">AO-80</span></div>
<div class="b j" style="left:418.60px;top:708.30px;width:303.13px;letter-spacing:-0.071px;">作为填料<span class="pc">,</span>考察有机填料对聚氨酯材料阻尼性能影响。</div>
<div class="b j" style="left:445.80px;top:728.40px;width:276.87px;letter-spacing:0.874px;">(<span class="l">1</span><span class="pr">)</span>有机填料的添加量较低时<span class="pc">,</span>能够很好地与聚</div>
<div class="b j" style="left:418.60px;top:748.50px;width:304.02px;letter-spacing:0.824px;">氨酯材料相互融合<span class="pc">,</span>提升材料的损耗因子<span class="pc">;</span>但随着有</div>
<div class="b j" style="left:418.60px;top:768.60px;width:303.72px;letter-spacing:0.516px;">机填料用量超过一定值后<span class="pc">,</span>聚氨酯材料的损耗因子会</div>
<div class="b" style="left:418.60px;top:788.70px;letter-spacing:0.100px;">逐渐降低。</div>
<div class="b j" style="left:445.80px;top:808.80px;width:276.51px;letter-spacing:0.509px;">(<span class="l">2</span><span class="pr">)</span>一定量的<i>β</i>–环糊精能够提高聚氨酯材料的损</div>
<div class="b j" style="left:418.60px;top:828.90px;width:303.69px;letter-spacing:0.494px;">耗因子<span class="pc">,</span>但聚氨酯材料的有效阻尼温域会因为<i>β</i>–环糊</div>
<div class="b" style="left:418.60px;top:849.00px;letter-spacing:0.100px;">精的加入而变窄。</div>
<div class="b j" style="left:445.80px;top:869.10px;width:276.75px;letter-spacing:0.746px;">(<span class="l">3</span><span class="pr">)</span>在较宽的添加范围内<span class="pc">,</span>阻燃剂<span class="l">8033</span>不仅能提</div>
<div class="b j" style="left:418.60px;top:889.20px;width:303.72px;letter-spacing:0.516px;">高聚氨酯材料的损耗因子<span class="pc">,</span>同时能拓宽聚氨酯材料的</div>
<div class="b" style="left:418.60px;top:909.30px;letter-spacing:0.100px;">有效阻尼温域。</div>
<div class="b j" style="left:445.80px;top:929.40px;width:276.54px;letter-spacing:0.540px;">(<span class="l">4</span><span class="pr">)</span>受阻酚<span class="l">AO-80</span>能够有效提高聚氨酯材料的损</div>
<div class="b" style="left:418.60px;top:949.50px;letter-spacing:0.100px;">耗因子<span class="pc">,</span>但会降低材料高温下的模量。</div>
<div class="b j" style="left:445.80px;top:969.60px;width:276.64px;letter-spacing:0.637px;">有机填料的加入提高了聚氨酯材料的阻尼性能,</div>
<div class="b j" style="left:418.60px;top:989.70px;width:303.72px;letter-spacing:0.516px;">可替代现有无机填料为主的高密度阻尼涂料<span class="pc">,</span>用于高</div>
<div class="cc" style="left:86.80000000000001px;width:320px;top:610.7px;">图6<span style="display:inline-block;width:9px"></span>不同含量AO-80–聚氨酯材料的储能模量</div>
<div class="ce" style="left:76.80000000000001px;width:340px;top:626.8px;">Fig. 6<span style="display:inline-block;width:9px"></span>The Storage Modulus of Polyurethane with</div>
<div class="ce" style="left:76.80000000000001px;width:340px;top:643.8px;">Different Content of AO-80</div>
<div class="cc" style="left:86.80000000000001px;width:320px;top:905.6px;">图7<span style="display:inline-block;width:9px"></span>不同含量AO-80–聚氨酯材料的损耗模量</div>
<div class="ce" style="left:76.80000000000001px;width:340px;top:922.1px;">Fig. 7<span style="display:inline-block;width:12px"></span>The Loss Modulus of Polyurethane with Different</div>
<div class="ce" style="left:76.80000000000001px;width:340px;top:938.6px;">Content of AO-80</div>
<div class="cc" style="left:411.29999999999995px;width:320px;top:421.5px;">图8<span style="display:inline-block;width:9px"></span>不同含量AO-80–聚氨酯材料的损耗因子</div>
<div class="ce" style="left:401.29999999999995px;width:340px;top:437.7px;">Fig. 8<span style="display:inline-block;width:9px"></span>The tan<i>δ</i> of Polyurethane with Different Content of</div>
<div class="ce" style="left:401.29999999999995px;width:340px;top:454.4px;">AO-80</div>
<div class="ft1" style="right:120.5px;top:1035.5px;">技术研发</div>
<div class="ft2" style="right:120.5px;top:1049.0px;">Technical Research and Development</div>
<div style="position:absolute;left:701px;top:1036px;width:2.6px;height:19.5px;background:#2f5f95"></div>
<div style="position:absolute;left:701px;top:1036px;width:25.5px;height:1.1px;background:#2f5f95"></div>
<div class="pg" style="left:707.6px;top:1039.9px;">31</div>
</div></body></html>
